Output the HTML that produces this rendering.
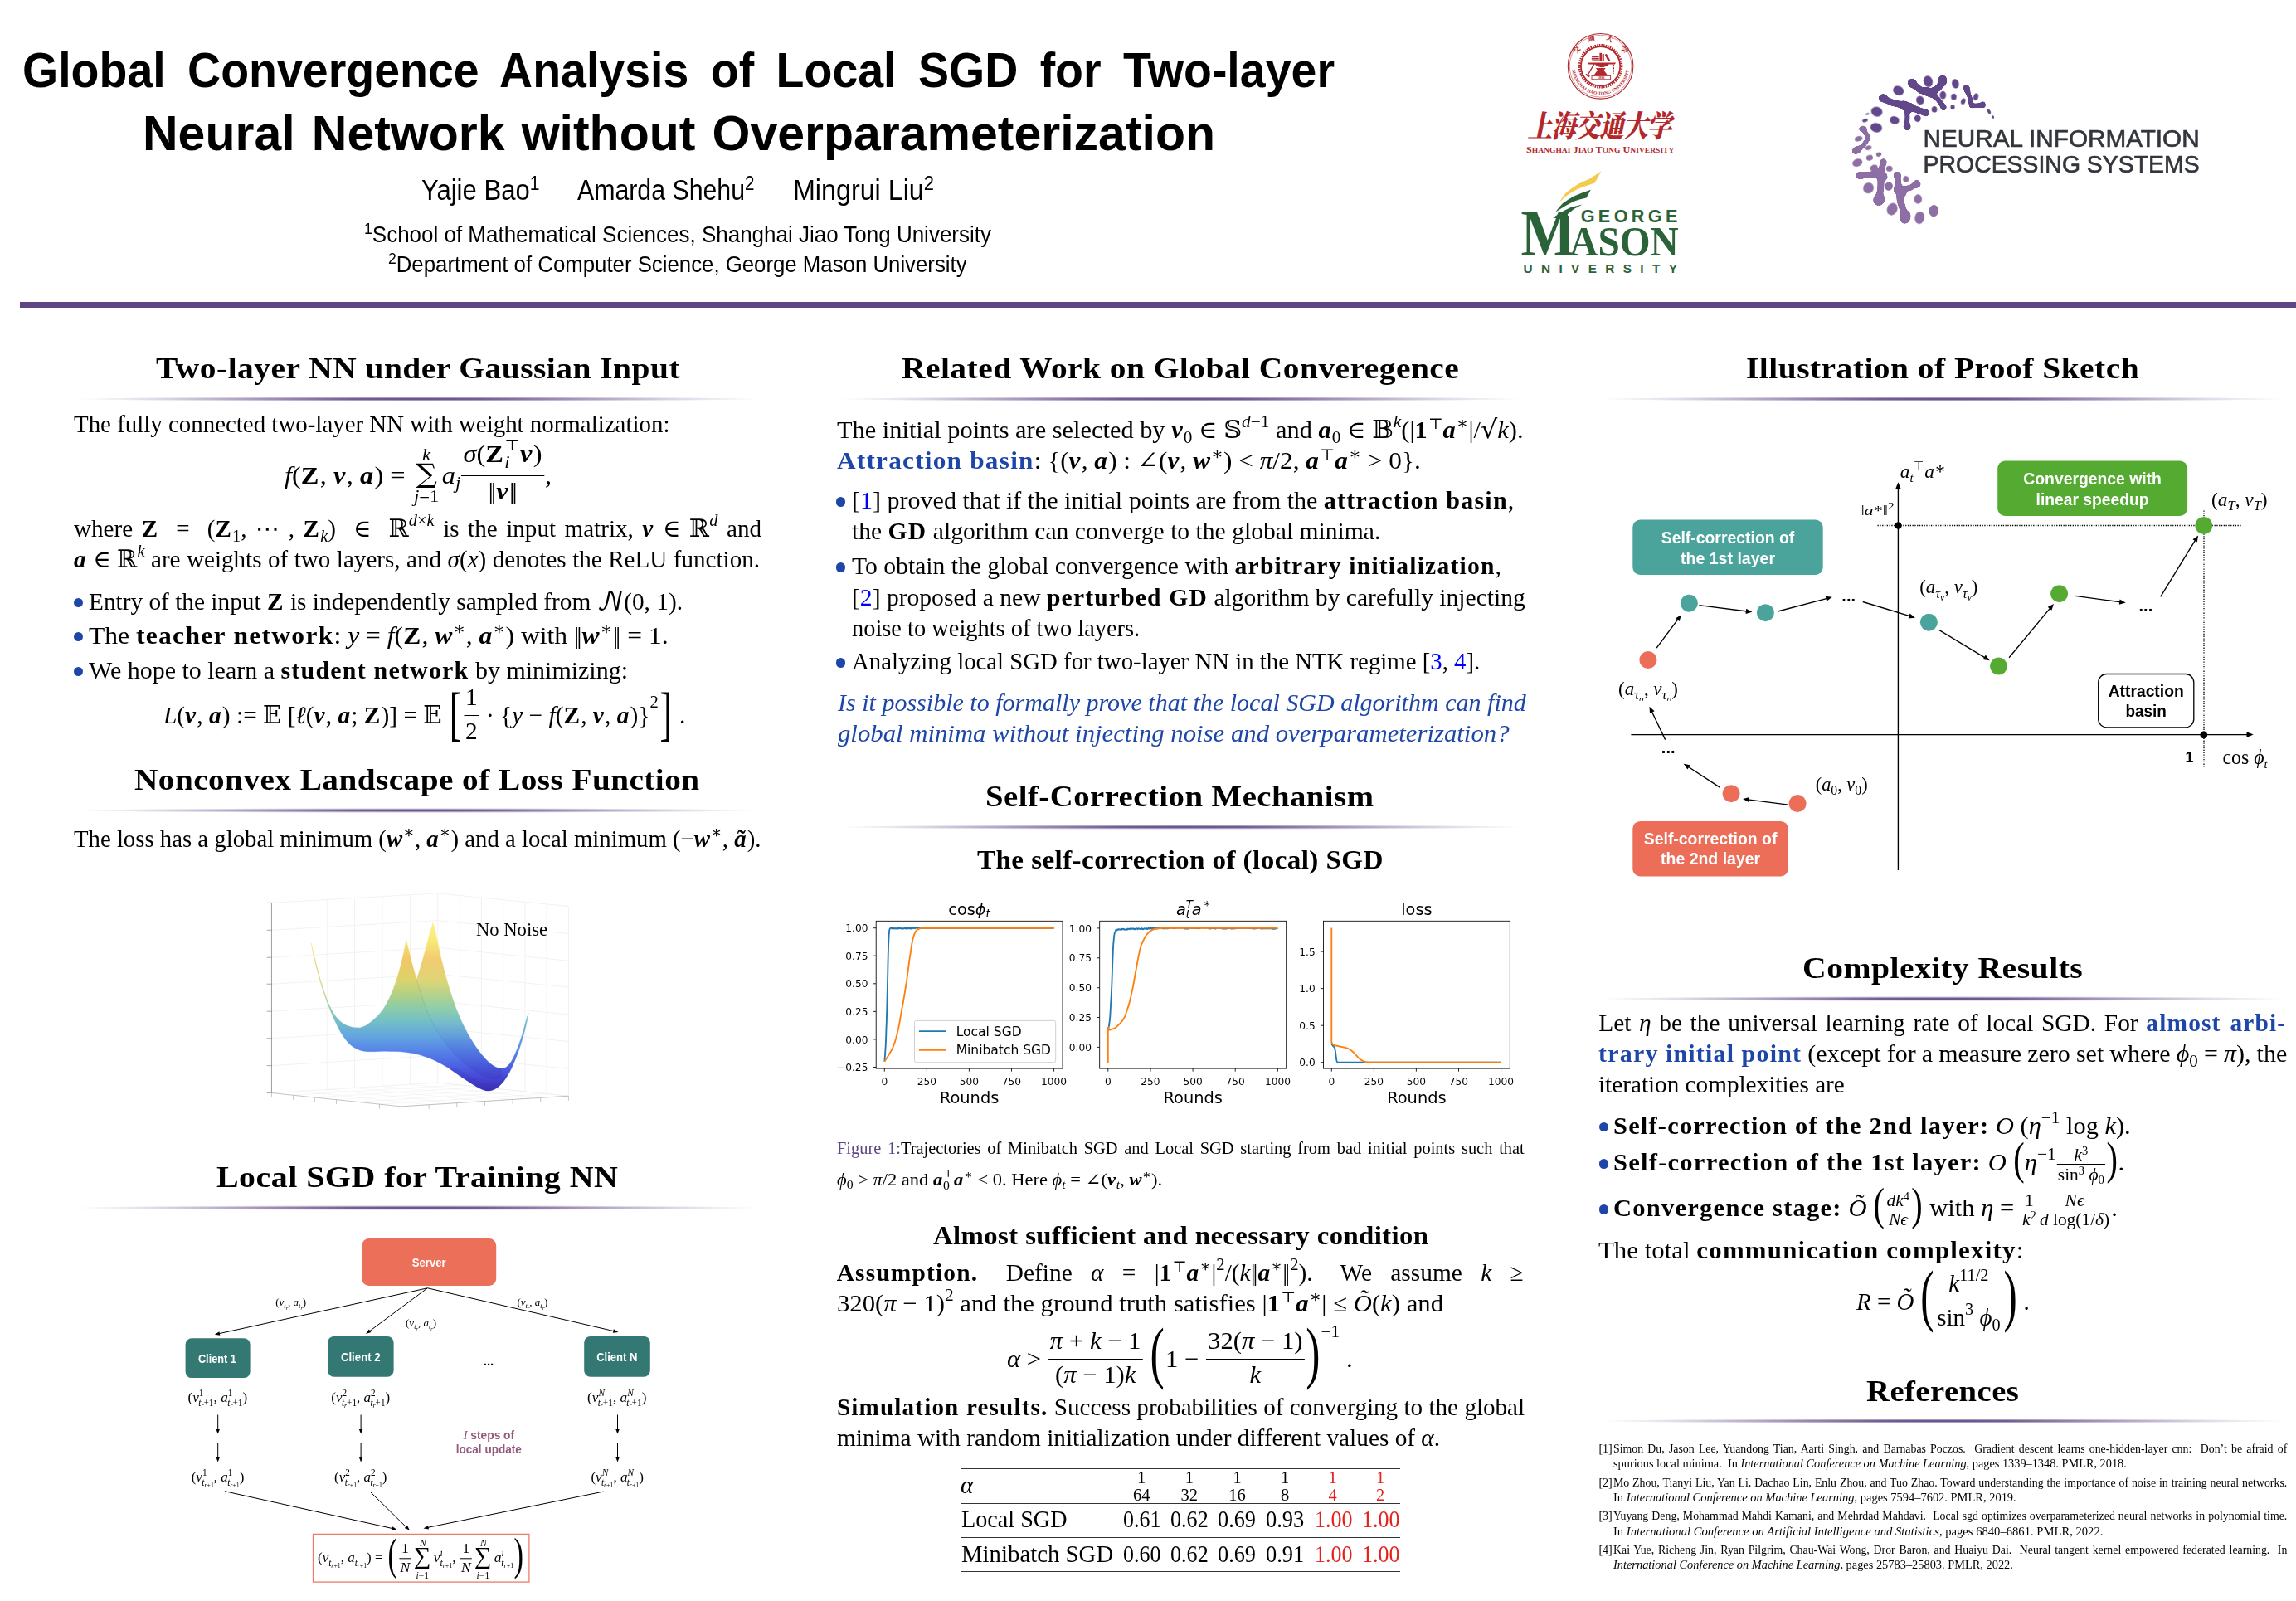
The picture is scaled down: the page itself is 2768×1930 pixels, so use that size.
<!DOCTYPE html><html lang="en"><head><meta charset="utf-8"><title>Global Convergence Analysis of Local SGD for Two-layer Neural Network without Overparameterization</title><style>
html,body{margin:0;padding:0;background:#fff}
body{width:2768px;height:1930px;position:relative;overflow:hidden;font-family:"Liberation Serif","DejaVu Serif","DejaVu Sans",serif;color:#000}
.t{position:absolute;white-space:nowrap;transform-origin:0 0;line-height:1.2;font-kerning:normal}
.sf{font-family:"Liberation Sans","DejaVu Sans",sans-serif}
.dj{font-family:"DejaVu Sans",sans-serif}
.bm{display:inline-block;width:0;height:0}
b{font-weight:bold;letter-spacing:0.04em} i{font-style:italic}
.sf b{letter-spacing:0}
.sp{font-size:70%;vertical-align:0.62em;line-height:0}
.sb{font-size:70%;vertical-align:-0.3em;line-height:0}
.ss{display:inline-block;font-size:70%;line-height:1.02;vertical-align:-0.36em;text-align:left}
.ss>span{display:block}
.fr{display:inline-block;vertical-align:-0.64em;text-align:center;line-height:1.12;margin:0 1px}
.fr>.n{display:block;border-bottom:1.3px solid currentColor;padding:0 2px 0.18em}
.fr>.d{display:block;padding:0.055em 2px 0}
.tf{display:inline-block;vertical-align:-0.55em;text-align:center;line-height:1;margin:0 1px;font-size:70%}
.tf>.n{display:block;border-bottom:1.1px solid currentColor;padding:0 1px 0}
.tf>.d{display:block;padding:0.1em 1px 0}
.tf .sp{vertical-align:0.5em;font-size:68%}
.sm{display:inline-block;vertical-align:-0.745em;text-align:center;line-height:1}
.sm>span{display:block}
.sm>.u{font-size:70%;font-style:italic;line-height:20px}
.sm>.s{font-size:110%;line-height:30px;position:relative;top:-2.5px}
.sm>.l{font-size:70%;line-height:20px}
.bp{display:inline-block;line-height:1;transform-origin:50% 50%}
.nm{letter-spacing:-0.1em;margin-right:0.1em}
.bl{color:#1d46a8}
.lk{color:#0000ff}
.rd{color:#e3231b}
.pu{color:#5e4684}
.mm{font-family:"DejaVu Math TeX Gyre","DejaVu Serif","DejaVu Sans",serif}
.ds{font-family:"DejaVu Serif","DejaVu Sans",serif}
svg{position:absolute;overflow:visible}
svg text{white-space:pre}
.abs{position:absolute}
</style></head><body>
<div class="abs" style="left:23.5px;top:363.5px;width:2745px;height:7px;background:#5e4684"></div>
<svg width="2768" height="1930" style="left:0;top:0"><circle cx="1929.6" cy="79.8" r="39.3" fill="none" stroke="#b3282d" stroke-width="1.1"/>
<circle cx="1929.6" cy="79.8" r="37.4" fill="none" stroke="#b3282d" stroke-width="0.5"/>
<circle cx="1929.6" cy="79.8" r="25.2" fill="none" stroke="#b3282d" stroke-width="3.2" stroke-dasharray="1.55 1.09"/>
<circle cx="1929.6" cy="79.8" r="23.6" fill="none" stroke="#b3282d" stroke-width="1.6"/>
<rect x="1919.1" y="67.3" width="8.5" height="2" fill="#b3282d"/><rect x="1918.8" y="70.0" width="9" height="1.6" fill="#b3282d"/><rect x="1919.3999999999999" y="72.39999999999999" width="8.6" height="1.6" fill="#b3282d"/>
<rect x="1928.3999999999999" y="63.8" width="2.6" height="10.2" fill="#b3282d"/><rect x="1931.6" y="65.0" width="2.2" height="9" fill="#b3282d"/><path d="M1934.6,65.8 l2.4,-0.8 l4.4,8.2 l-2.6,0.8 z" fill="#b3282d"/>
<path d="M1914.6,75.39999999999999 h33.5 l-1.2,2.2 h-7.3 q-3,3.4 -8.6,3.6 q-5.4,-0.2 -8,-3.6 h-8.4 z" fill="#b3282d"/>
<path d="M1924.0,82.0 h11.6 l-2.2,3.2 h-7.4 z M1925.0,86.0 h9.6 l3.2,4.4 h-16.2 z" fill="#b3282d"/>
<rect x="1919.0" y="91.39999999999999" width="22.6" height="4.4" fill="none" stroke="#b3282d" stroke-width="0.9"/>
<text x="1930.1999999999998" y="95.3" font-size="3.9" font-weight="bold" fill="#b3282d" text-anchor="middle" font-family="Liberation Sans, sans-serif">1896</text>
<path d="M1922.1999999999998,76.6 L1914.1999999999998,90.39999999999999" stroke="#b3282d" stroke-width="1.3"/><path d="M1912.1999999999998,88.8 l4.6,2.8 l-1,1.7 l-4.6,-2.8 z" fill="#b3282d"/>
<path d="M1945.1999999999998,77.8 v11" stroke="#b3282d" stroke-width="1.5" stroke-dasharray="2.4 0.9"/>
<defs><path id="arcT" d="M1898.1,79.8 A31.5,31.5 0 0 1 1961.1,79.8"/><path id="arcB" d="M1895.0,79.8 A34.6,34.6 0 0 0 1964.1999999999998,79.8"/></defs>
<text font-family="Noto Serif CJK SC, serif" font-weight="900" font-size="8.6" fill="#b3282d" letter-spacing="11.6"><textPath href="#arcT" startOffset="14.5%">交通大學</textPath></text>
<text font-family="Liberation Serif, serif" font-weight="bold" font-size="5.4" fill="#b3282d"><textPath href="#arcB" startOffset="4%" textLength="100" lengthAdjust="spacingAndGlyphs">SHANGHAI JIAO TONG UNIVERSITY</textPath></text>
<text font-family="Noto Serif CJK SC, Noto Sans CJK SC, serif" font-weight="900" font-size="30" fill="#b3282d" x="0" y="0" transform="translate(1841.5,165) scale(1,1.22) skewX(-14)" textLength="174" lengthAdjust="spacing">上海交通大学</text>
<text font-family="Liberation Serif, serif" font-weight="bold" font-size="10.1" fill="#b3282d" x="1840" y="184.1" textLength="178.4" lengthAdjust="spacingAndGlyphs">S<tspan font-size="7.9">HANGHAI</tspan> J<tspan font-size="7.9">IAO</tspan> T<tspan font-size="7.9">ONG</tspan> U<tspan font-size="7.9">NIVERSITY</tspan></text>
<text font-family="Liberation Serif, serif" font-weight="bold" font-size="80.5" fill="#2b6339" x="1833.6" y="307.7" textLength="66" lengthAdjust="spacingAndGlyphs">M</text>
<text font-family="Liberation Serif, serif" font-weight="bold" font-size="50.5" fill="#2b6339" x="1892.2" y="307.7" textLength="131.6" lengthAdjust="spacingAndGlyphs">ASON</text>
<text font-family="Liberation Sans, sans-serif" font-weight="bold" font-size="15.3" fill="#2b6339" x="1836.5" y="329.2" textLength="185.4" lengthAdjust="spacing">UNIVERSITY</text>
<polygon points="1889.9,252.0 1906.2,252.0 1906.2,259.9 1889.9,259.9" fill="#fff"/>
<polygon points="1880.0,243.7 1883.9,237.4 1887.8,232.6 1894.6,227.3 1902.3,222.0 1916.8,215.2 1930.4,206.5 1922.6,220.5 1907.2,225.8 1899.4,229.2 1893.6,232.6 1886.8,237.4" fill="#f4cb4f"/>
<polygon points="1875.2,255.8 1879.1,250.5 1883.9,245.2 1890.7,240.4 1897.5,236.5 1907.2,232.4 1917.8,228.7 1912.5,238.4 1904.2,240.5 1897.5,242.8 1891.2,246.0 1885.8,249.1" fill="#2b6339"/>
<polygon points="1872.3,262.6 1882.0,255.8 1893.6,250.0 1907.6,246.6 1897.5,252.0 1889.7,258.3 1889.7,263.6 1878.1,263.6" fill="#2b6339"/>
<text font-family="Liberation Sans, sans-serif" font-weight="bold" font-size="21.6" fill="#2b6339" x="1905.7" y="268.4" textLength="116.7" lengthAdjust="spacing">GEORGE</text>
<defs><filter id="goo" x="-5%" y="-5%" width="110%" height="110%" color-interpolation-filters="sRGB"><feGaussianBlur in="SourceGraphic" stdDeviation="8" result="b"/><feColorMatrix in="b" mode="matrix" values="1 0 0 0 0  0 1 0 0 0  0 0 1 0 0  0 0 0 7 -3"/></filter></defs>
<g transform="translate(2220,70) scale(0.137419)"><g filter="url(#goo)"><ellipse cx="885" cy="200" rx="42" ry="52" fill="#62478a" transform="rotate(10 885 200)"/><ellipse cx="620" cy="220" rx="42" ry="42" fill="#62478a"/><ellipse cx="895" cy="432" rx="26" ry="28" fill="#62478a"/><ellipse cx="365" cy="350" rx="40" ry="38" fill="#62478a"/><ellipse cx="575" cy="600" rx="34" ry="34" fill="#62478a"/><ellipse cx="740" cy="480" rx="30" ry="30" fill="#62478a"/><ellipse cx="1100" cy="272" rx="30" ry="44" fill="#62478a" transform="rotate(-20 1100 272)"/><ellipse cx="1240" cy="410" rx="25" ry="30" fill="#62478a"/><ellipse cx="188" cy="620" rx="36" ry="28" fill="#8d6fa5"/><ellipse cx="135" cy="808" rx="46" ry="33" fill="#8d6fa5" transform="rotate(-25 135 808)"/><ellipse cx="165" cy="1030" rx="38" ry="36" fill="#8d6fa5"/><ellipse cx="367" cy="912" rx="30" ry="30" fill="#8d6fa5"/><ellipse cx="330" cy="1240" rx="51" ry="56" fill="#8d6fa5" transform="rotate(25 330 1240)"/><ellipse cx="490" cy="1030" rx="34" ry="36" fill="#8d6fa5"/><ellipse cx="660" cy="1105" rx="36" ry="36" fill="#8d6fa5"/><ellipse cx="560" cy="1395" rx="48" ry="61" fill="#8d6fa5" transform="rotate(15 560 1395)"/><path d="M620,225 L700,285 L780,300 L850,262 L885,215" stroke="#62478a" stroke-width="59" stroke-linecap="round" stroke-linejoin="round" fill="none"/><path d="M745,292 L800,312" stroke="#62478a" stroke-width="79" stroke-linecap="round" stroke-linejoin="round" fill="none"/><path d="M780,300 L850,365 L895,430" stroke="#62478a" stroke-width="46" stroke-linecap="round" stroke-linejoin="round" fill="none"/><path d="M365,355 L450,392 L575,420 L680,460 L740,480" stroke="#62478a" stroke-width="59" stroke-linecap="round" stroke-linejoin="round" fill="none"/><path d="M545,415 L605,435" stroke="#62478a" stroke-width="84" stroke-linecap="round" stroke-linejoin="round" fill="none"/><path d="M575,420 L578,520 L575,600" stroke="#62478a" stroke-width="44" stroke-linecap="round" stroke-linejoin="round" fill="none"/><path d="M1100,280 L1128,350 L1140,420 L1240,412" stroke="#62478a" stroke-width="41" stroke-linecap="round" stroke-linejoin="round" fill="none"/><path d="M190,622 L238,700 L190,770 L135,805" stroke="#8d6fa5" stroke-width="41" stroke-linecap="round" stroke-linejoin="round" fill="none"/><path d="M165,1030 L250,1022 L345,1008 L367,915" stroke="#8d6fa5" stroke-width="56" stroke-linecap="round" stroke-linejoin="round" fill="none"/><path d="M345,1008 L345,1130 L330,1235" stroke="#8d6fa5" stroke-width="59" stroke-linecap="round" stroke-linejoin="round" fill="none"/><path d="M325,1015 L360,1040" stroke="#8d6fa5" stroke-width="90" stroke-linecap="round" stroke-linejoin="round" fill="none"/><path d="M490,1030 L508,1150 L600,1140 L660,1105" stroke="#8d6fa5" stroke-width="51" stroke-linecap="round" stroke-linejoin="round" fill="none"/><path d="M508,1150 L515,1250 L560,1390" stroke="#8d6fa5" stroke-width="61" stroke-linecap="round" stroke-linejoin="round" fill="none"/><path d="M500,1150 L528,1180" stroke="#8d6fa5" stroke-width="90" stroke-linecap="round" stroke-linejoin="round" fill="none"/></g><ellipse cx="760" cy="205" rx="40" ry="50" fill="#62478a" transform="rotate(-15 760 205)"/><ellipse cx="1000" cy="225" rx="31" ry="42" fill="#62478a" transform="rotate(-10 1000 225)"/><ellipse cx="1180" cy="340" rx="21" ry="31" fill="#62478a" transform="rotate(15 1180 340)"/><ellipse cx="1295" cy="470" rx="13" ry="22" fill="#62478a" transform="rotate(-25 1295 470)"/><ellipse cx="1330" cy="517" rx="9" ry="14" fill="#62478a" transform="rotate(-20 1330 517)"/><ellipse cx="890" cy="325" rx="28" ry="35" fill="#62478a"/><ellipse cx="985" cy="340" rx="24" ry="29" fill="#62478a"/><ellipse cx="1068" cy="380" rx="19" ry="28" fill="#62478a" transform="rotate(20 1068 380)"/><ellipse cx="975" cy="430" rx="19" ry="22" fill="#62478a"/><ellipse cx="815" cy="450" rx="24" ry="28" fill="#62478a"/><ellipse cx="690" cy="370" rx="34" ry="38" fill="#62478a" transform="rotate(-20 690 370)"/><ellipse cx="668" cy="530" rx="28" ry="30" fill="#62478a"/><ellipse cx="500" cy="285" rx="48" ry="40" fill="#62478a" transform="rotate(25 500 285)"/><ellipse cx="310" cy="470" rx="50" ry="43" fill="#62478a" transform="rotate(20 310 470)"/><ellipse cx="465" cy="545" rx="42" ry="34" fill="#62478a" transform="rotate(15 465 545)"/><ellipse cx="305" cy="610" rx="52" ry="41" fill="#62478a" transform="rotate(10 305 610)"/><ellipse cx="228" cy="490" rx="16" ry="8" fill="#62478a" transform="rotate(-15 228 490)"/><ellipse cx="207" cy="548" rx="25" ry="14" fill="#62478a" transform="rotate(-15 207 548)"/><ellipse cx="150" cy="708" rx="35" ry="22" fill="#8d6fa5" transform="rotate(-15 150 708)"/><ellipse cx="237" cy="787" rx="28" ry="20" fill="#8d6fa5" transform="rotate(-15 237 787)"/><ellipse cx="328" cy="845" rx="24" ry="19" fill="#8d6fa5" transform="rotate(-15 328 845)"/><ellipse cx="247" cy="875" rx="30" ry="24" fill="#8d6fa5" transform="rotate(-15 247 875)"/><ellipse cx="140" cy="918" rx="45" ry="33" fill="#8d6fa5" transform="rotate(-20 140 918)"/><ellipse cx="285" cy="965" rx="35" ry="29" fill="#8d6fa5" transform="rotate(-20 285 965)"/><ellipse cx="420" cy="970" rx="28" ry="25" fill="#8d6fa5"/><ellipse cx="565" cy="1062" rx="25" ry="28" fill="#8d6fa5"/><ellipse cx="237" cy="1140" rx="46" ry="48" fill="#8d6fa5" transform="rotate(30 237 1140)"/><ellipse cx="415" cy="1125" rx="35" ry="38" fill="#8d6fa5" transform="rotate(20 415 1125)"/><ellipse cx="672" cy="1237" rx="34" ry="42" fill="#8d6fa5"/><ellipse cx="445" cy="1325" rx="45" ry="55" fill="#8d6fa5" transform="rotate(25 445 1325)"/><ellipse cx="685" cy="1400" rx="42" ry="55" fill="#8d6fa5" transform="rotate(10 685 1400)"/><ellipse cx="810" cy="1340" rx="42" ry="52" fill="#8d6fa5" transform="rotate(5 810 1340)"/></g>
<text font-family="Liberation Sans, sans-serif" font-size="29.4" fill="#33353c" stroke="#33353c" stroke-width="0.65" x="2318.6" y="176.6" textLength="333" lengthAdjust="spacingAndGlyphs">NEURAL INFORMATION</text>
<text font-family="Liberation Sans, sans-serif" font-size="29.4" fill="#33353c" stroke="#33353c" stroke-width="0.65" x="2318.6" y="207.5" textLength="333" lengthAdjust="spacingAndGlyphs">PROCESSING SYSTEMS</text></svg>
<div class="abs" style="left:88.5px;top:477.6px;width:829.5px;height:6.0px;background:radial-gradient(ellipse 50% 50% at 50% 50%,rgba(94,70,132,1) 0%,rgba(94,70,132,.88) 24%,rgba(94,70,132,.52) 52%,rgba(94,70,132,.2) 78%,rgba(94,70,132,0) 100%)"></div>
<div class="abs" style="left:88.7px;top:720.5px;width:11.6px;height:11.6px;border-radius:50%;background:#1d46a8"></div>
<div class="abs" style="left:88.7px;top:761.9px;width:11.6px;height:11.6px;border-radius:50%;background:#1d46a8"></div>
<div class="abs" style="left:88.7px;top:803.7px;width:11.6px;height:11.6px;border-radius:50%;background:#1d46a8"></div>
<div class="abs" style="left:88.5px;top:973.9px;width:829.5px;height:6.0px;background:radial-gradient(ellipse 50% 50% at 50% 50%,rgba(94,70,132,1) 0%,rgba(94,70,132,.88) 24%,rgba(94,70,132,.52) 52%,rgba(94,70,132,.2) 78%,rgba(94,70,132,0) 100%)"></div>
<div class="abs" style="left:88.5px;top:1452.6px;width:829.5px;height:6.0px;background:radial-gradient(ellipse 50% 50% at 50% 50%,rgba(94,70,132,1) 0%,rgba(94,70,132,.88) 24%,rgba(94,70,132,.52) 52%,rgba(94,70,132,.2) 78%,rgba(94,70,132,0) 100%)"></div>
<div class="abs" style="left:1008.5px;top:477.6px;width:829.5px;height:6.0px;background:radial-gradient(ellipse 50% 50% at 50% 50%,rgba(94,70,132,1) 0%,rgba(94,70,132,.88) 24%,rgba(94,70,132,.52) 52%,rgba(94,70,132,.2) 78%,rgba(94,70,132,0) 100%)"></div>
<div class="abs" style="left:1007.9px;top:599.4px;width:11.6px;height:11.6px;border-radius:50%;background:#1d46a8"></div>
<div class="abs" style="left:1007.9px;top:678.0px;width:11.6px;height:11.6px;border-radius:50%;background:#1d46a8"></div>
<div class="abs" style="left:1007.9px;top:793.3px;width:11.6px;height:11.6px;border-radius:50%;background:#1d46a8"></div>
<div class="abs" style="left:1008.5px;top:993.7px;width:829.5px;height:6.0px;background:radial-gradient(ellipse 50% 50% at 50% 50%,rgba(94,70,132,1) 0%,rgba(94,70,132,.88) 24%,rgba(94,70,132,.52) 52%,rgba(94,70,132,.2) 78%,rgba(94,70,132,0) 100%)"></div>
<div class="abs" style="left:1157.7px;top:1769.7px;width:530.5px;height:1.4px;background:#333"></div>
<div class="abs" style="left:1157.7px;top:1811.6px;width:530.5px;height:1.4px;background:#333"></div>
<div class="abs" style="left:1157.7px;top:1852.8px;width:530.5px;height:1.4px;background:#333"></div>
<div class="abs" style="left:1157.7px;top:1894.0px;width:530.5px;height:1.4px;background:#333"></div>
<div class="abs" style="left:1366.7px;top:1791.5px;width:19px;height:1.2px;background:#000"></div>
<div class="abs" style="left:1424.3px;top:1791.5px;width:19px;height:1.2px;background:#000"></div>
<div class="abs" style="left:1482.1px;top:1791.5px;width:19px;height:1.2px;background:#000"></div>
<div class="abs" style="left:1544.0px;top:1791.5px;width:10.5px;height:1.2px;background:#000"></div>
<div class="abs" style="left:1601.3px;top:1791.5px;width:10.5px;height:1.2px;background:#e3231b"></div>
<div class="abs" style="left:1659.0px;top:1791.5px;width:10.5px;height:1.2px;background:#e3231b"></div>
<div class="abs" style="left:1927.5px;top:477.6px;width:829.5px;height:6.0px;background:radial-gradient(ellipse 50% 50% at 50% 50%,rgba(94,70,132,1) 0%,rgba(94,70,132,.88) 24%,rgba(94,70,132,.52) 52%,rgba(94,70,132,.2) 78%,rgba(94,70,132,0) 100%)"></div>
<div class="abs" style="left:1927.5px;top:1200.7px;width:829.5px;height:6.0px;background:radial-gradient(ellipse 50% 50% at 50% 50%,rgba(94,70,132,1) 0%,rgba(94,70,132,.88) 24%,rgba(94,70,132,.52) 52%,rgba(94,70,132,.2) 78%,rgba(94,70,132,0) 100%)"></div>
<div class="abs" style="left:1927.5px;top:1352.7px;width:11.6px;height:11.6px;border-radius:50%;background:#1d46a8"></div>
<div class="abs" style="left:1927.5px;top:1397.3px;width:11.6px;height:11.6px;border-radius:50%;background:#1d46a8"></div>
<div class="abs" style="left:1927.5px;top:1452.1px;width:11.6px;height:11.6px;border-radius:50%;background:#1d46a8"></div>
<div class="abs" style="left:1927.5px;top:1710.2px;width:829.5px;height:6.0px;background:radial-gradient(ellipse 50% 50% at 50% 50%,rgba(94,70,132,1) 0%,rgba(94,70,132,.88) 24%,rgba(94,70,132,.52) 52%,rgba(94,70,132,.2) 78%,rgba(94,70,132,0) 100%)"></div>
<svg width="2768" height="1930" style="left:0;top:0" font-family="DejaVu Sans, sans-serif" fill="#000"><rect x="1056.2" y="1110.3" width="224.8" height="177.8" fill="#fff" stroke="none"/>
<clipPath id="cp1056"><rect x="1056.2" y="1110.3" width="224.8" height="177.8"/></clipPath>
<g clip-path="url(#cp1056)" fill="none" stroke-width="1.85" stroke-linejoin="round">
<path d="M1066.3,1279.7 L1066.5,1277.8 L1066.7,1275.5 L1066.9,1273.0 L1067.1,1270.3 L1067.3,1267.5 L1067.5,1264.4 L1067.7,1260.9 L1067.9,1256.9 L1068.1,1252.1 L1068.3,1246.3 L1068.5,1239.9 L1068.8,1233.1 L1069.0,1226.1 L1069.2,1218.8 L1069.4,1210.9 L1069.6,1202.7 L1069.8,1194.3 L1070.0,1185.8 L1070.2,1176.6 L1070.4,1166.7 L1070.6,1157.1 L1070.8,1148.9 L1071.0,1142.6 L1071.2,1137.0 L1071.4,1132.1 L1071.6,1128.2 L1071.8,1125.4 L1072.0,1123.5 L1072.2,1121.9 L1072.4,1120.7 L1072.6,1120.0 L1072.8,1119.6 L1073.0,1119.3 L1073.2,1119.1 L1073.4,1118.9 L1073.7,1118.7 L1073.9,1118.7 L1074.1,1118.4 L1074.3,1118.7 L1074.5,1119.0 L1074.7,1118.9 L1074.9,1118.7 L1075.1,1119.4 L1075.3,1118.7 L1075.5,1118.7 L1075.7,1119.2 L1075.9,1119.4 L1076.1,1119.2 L1076.3,1119.1 L1076.5,1118.9 L1076.7,1119.1 L1076.9,1118.5 L1077.1,1119.5 L1077.3,1119.4 L1077.5,1119.4 L1077.7,1118.9 L1077.9,1119.4 L1078.1,1119.1 L1078.4,1119.4 L1078.6,1119.5 L1079.1,1119.5 L1079.6,1118.9 L1080.1,1119.5 L1080.6,1119.4 L1081.1,1119.2 L1081.6,1118.8 L1082.1,1119.5 L1082.6,1118.7 L1083.2,1119.5 L1083.7,1118.6 L1084.2,1119.1 L1084.7,1118.6 L1085.2,1119.0 L1085.7,1118.8 L1086.2,1119.6 L1086.7,1119.3 L1087.2,1119.5 L1087.7,1119.3 L1088.3,1119.5 L1088.8,1119.2 L1089.3,1119.1 L1089.8,1119.5 L1090.3,1118.8 L1090.8,1119.0 L1091.3,1119.3 L1091.8,1119.0 L1092.3,1119.5 L1092.9,1118.9 L1093.4,1118.5 L1093.9,1119.2 L1094.4,1118.8 L1094.9,1119.4 L1095.4,1118.8 L1095.9,1119.2 L1096.4,1119.3 L1096.9,1118.9 L1097.5,1119.5 L1098.0,1118.6 L1098.5,1119.5 L1099.0,1118.8 L1099.5,1119.2 L1100.0,1118.7 L1100.5,1118.4 L1101.0,1119.2 L1101.5,1118.8 L1102.0,1118.8 L1102.6,1118.8 L1103.1,1119.2 L1103.6,1118.4 L1104.1,1118.9 L1104.6,1118.5 L1105.1,1118.6 L1105.6,1119.0 L1106.1,1118.5 L1106.6,1118.9 L1107.2,1118.4 L1107.7,1118.7 L1108.2,1118.3 L1108.7,1118.5 L1109.2,1118.5 L1109.7,1118.7 L1110.2,1118.2 L1110.7,1118.6 L1111.2,1118.8 L1111.8,1118.7 L1112.3,1118.7 L1112.8,1118.7 L1113.3,1118.7 L1113.8,1118.7 L1114.3,1118.7 L1114.8,1118.7 L1115.3,1118.7 L1115.8,1118.7 L1116.3,1118.7 L1116.9,1118.7 L1117.4,1118.7 L1117.9,1118.7 L1118.4,1118.7 L1118.9,1118.7 L1119.4,1118.7 L1119.9,1118.7 L1120.4,1118.7 L1120.9,1118.7 L1121.5,1118.7 L1122.0,1118.7 L1122.5,1118.7 L1123.0,1118.7 L1123.5,1118.7 L1124.0,1118.7 L1124.5,1118.7 L1125.0,1118.7 L1125.5,1118.7 L1126.1,1118.7 L1126.6,1118.7 L1127.1,1118.7 L1127.6,1118.7 L1128.1,1118.7 L1128.6,1118.7 L1129.1,1118.7 L1129.6,1118.7 L1130.1,1118.7 L1130.6,1118.7 L1131.2,1118.7 L1131.7,1118.7 L1132.2,1118.7 L1132.7,1118.7 L1133.2,1118.7 L1133.7,1118.7 L1134.2,1118.7 L1134.7,1118.7 L1135.2,1118.7 L1135.8,1118.7 L1136.3,1118.7 L1136.8,1118.7 L1137.3,1118.7 L1137.8,1118.7 L1138.3,1118.7 L1138.8,1118.7 L1139.3,1118.7 L1139.8,1118.7 L1143.1,1118.7 L1146.4,1118.7 L1149.6,1118.7 L1152.9,1118.7 L1156.2,1118.7 L1159.5,1118.7 L1162.7,1118.7 L1166.0,1118.7 L1169.3,1118.7 L1172.5,1118.7 L1175.8,1118.7 L1179.1,1118.7 L1182.3,1118.7 L1185.6,1118.7 L1188.9,1118.7 L1192.1,1118.7 L1195.4,1118.7 L1198.7,1118.7 L1201.9,1118.7 L1205.2,1118.7 L1208.5,1118.7 L1211.7,1118.7 L1215.0,1118.7 L1218.3,1118.7 L1221.6,1118.7 L1224.8,1118.7 L1228.1,1118.7 L1231.4,1118.7 L1234.6,1118.7 L1237.9,1118.7 L1241.2,1118.7 L1244.4,1118.7 L1247.7,1118.7 L1251.0,1118.7 L1254.2,1118.7 L1257.5,1118.7 L1260.8,1118.7 L1264.0,1118.7 L1267.3,1118.7 L1270.6,1118.7" stroke="#1f77b4"/>
<path d="M1066.3,1279.7 L1066.5,1279.4 L1066.7,1279.1 L1066.9,1278.8 L1067.1,1278.5 L1067.3,1278.2 L1067.5,1277.9 L1067.7,1277.6 L1067.9,1277.3 L1068.1,1277.0 L1068.3,1276.7 L1068.5,1276.4 L1068.8,1276.0 L1069.0,1275.7 L1069.2,1275.4 L1069.4,1275.1 L1069.6,1274.7 L1069.8,1274.4 L1070.0,1274.1 L1070.2,1273.7 L1070.4,1273.4 L1070.6,1273.1 L1070.8,1272.7 L1071.0,1272.4 L1071.2,1272.0 L1071.4,1271.7 L1071.6,1271.3 L1071.8,1271.0 L1072.0,1270.7 L1072.2,1270.3 L1072.4,1270.0 L1072.6,1269.6 L1072.8,1269.3 L1073.0,1269.0 L1073.2,1268.6 L1073.4,1268.3 L1073.7,1267.9 L1073.9,1267.6 L1074.1,1267.2 L1074.3,1266.9 L1074.5,1266.5 L1074.7,1266.1 L1074.9,1265.8 L1075.1,1265.4 L1075.3,1265.0 L1075.5,1264.6 L1075.7,1264.1 L1075.9,1263.7 L1076.1,1263.3 L1076.3,1262.8 L1076.5,1262.4 L1076.7,1261.9 L1076.9,1261.4 L1077.1,1260.9 L1077.3,1260.3 L1077.5,1259.8 L1077.7,1259.2 L1077.9,1258.7 L1078.1,1258.1 L1078.4,1257.5 L1078.6,1256.8 L1079.1,1255.2 L1079.6,1253.5 L1080.1,1251.8 L1080.6,1249.9 L1081.1,1248.0 L1081.6,1246.0 L1082.1,1243.9 L1082.6,1241.8 L1083.2,1239.4 L1083.7,1236.9 L1084.2,1234.2 L1084.7,1231.4 L1085.2,1228.5 L1085.7,1225.6 L1086.2,1222.7 L1086.7,1219.8 L1087.2,1217.0 L1087.7,1214.1 L1088.3,1211.3 L1088.8,1208.4 L1089.3,1205.5 L1089.8,1202.6 L1090.3,1199.6 L1090.8,1196.6 L1091.3,1193.5 L1091.8,1190.4 L1092.3,1187.1 L1092.9,1183.8 L1093.4,1180.2 L1093.9,1176.4 L1094.4,1172.5 L1094.9,1168.6 L1095.4,1164.7 L1095.9,1160.9 L1096.4,1157.1 L1096.9,1153.6 L1097.5,1150.2 L1098.0,1146.8 L1098.5,1143.4 L1099.0,1140.0 L1099.5,1137.0 L1100.0,1134.3 L1100.5,1132.1 L1101.0,1130.3 L1101.5,1128.7 L1102.0,1127.1 L1102.6,1125.7 L1103.1,1124.5 L1103.6,1123.5 L1104.1,1122.6 L1104.6,1122.0 L1105.1,1121.5 L1105.6,1121.0 L1106.1,1120.6 L1106.6,1120.3 L1107.2,1120.0 L1107.7,1119.8 L1108.2,1119.6 L1108.7,1119.4 L1109.2,1119.2 L1109.7,1119.0 L1110.2,1119.0 L1110.7,1118.9 L1111.2,1118.9 L1111.8,1118.8 L1112.3,1118.8 L1112.8,1118.8 L1113.3,1118.7 L1113.8,1118.7 L1114.3,1118.7 L1114.8,1118.7 L1115.3,1118.7 L1115.8,1118.7 L1116.3,1118.7 L1116.9,1118.7 L1117.4,1118.7 L1117.9,1118.7 L1118.4,1118.7 L1118.9,1118.7 L1119.4,1118.7 L1119.9,1118.7 L1120.4,1118.7 L1120.9,1118.7 L1121.5,1118.7 L1122.0,1118.7 L1122.5,1118.7 L1123.0,1118.7 L1123.5,1118.7 L1124.0,1118.7 L1124.5,1118.7 L1125.0,1118.7 L1125.5,1118.7 L1126.1,1118.7 L1126.6,1118.7 L1127.1,1118.7 L1127.6,1118.7 L1128.1,1118.7 L1128.6,1118.7 L1129.1,1118.7 L1129.6,1118.7 L1130.1,1118.7 L1130.6,1118.7 L1131.2,1118.7 L1131.7,1118.7 L1132.2,1118.7 L1132.7,1118.7 L1133.2,1118.7 L1133.7,1118.7 L1134.2,1118.7 L1134.7,1118.7 L1135.2,1118.7 L1135.8,1118.7 L1136.3,1118.7 L1136.8,1118.7 L1137.3,1118.7 L1137.8,1118.7 L1138.3,1118.7 L1138.8,1118.7 L1139.3,1118.7 L1139.8,1118.7 L1143.1,1118.7 L1146.4,1118.7 L1149.6,1118.7 L1152.9,1118.7 L1156.2,1118.7 L1159.5,1118.7 L1162.7,1118.7 L1166.0,1118.7 L1169.3,1118.7 L1172.5,1118.7 L1175.8,1118.7 L1179.1,1118.7 L1182.3,1118.7 L1185.6,1118.7 L1188.9,1118.7 L1192.1,1118.7 L1195.4,1118.7 L1198.7,1118.7 L1201.9,1118.7 L1205.2,1118.7 L1208.5,1118.7 L1211.7,1118.7 L1215.0,1118.7 L1218.3,1118.7 L1221.6,1118.7 L1224.8,1118.7 L1228.1,1118.7 L1231.4,1118.7 L1234.6,1118.7 L1237.9,1118.7 L1241.2,1118.7 L1244.4,1118.7 L1247.7,1118.7 L1251.0,1118.7 L1254.2,1118.7 L1257.5,1118.7 L1260.8,1118.7 L1264.0,1118.7 L1267.3,1118.7 L1270.6,1118.7" stroke="#ff7f0e"/>
</g>
<rect x="1102.5" y="1230.4" width="170.2" height="50.3" rx="2.2" fill="#fff" fill-opacity="0.8" stroke="#ccc" stroke-width="0.9"/><path d="M1107.9,1243.1 h33" stroke="#1f77b4" stroke-width="1.85"/><path d="M1107.9,1265.7 h33" stroke="#ff7f0e" stroke-width="1.85"/><text x="1152.7" y="1248.6" font-size="15.5">Local SGD</text><text x="1152.7" y="1271.1" font-size="15.5">Minibatch SGD</text>
<rect x="1056.2" y="1110.3" width="224.8" height="177.8" fill="none" stroke="#000" stroke-width="0.85"/>
<path d="M1066.3,1288.1 v3.6" stroke="#000" stroke-width="0.85"/>
<text x="1066.3" y="1308.3" font-size="12.2" text-anchor="middle">0</text>
<path d="M1117.4,1288.1 v3.6" stroke="#000" stroke-width="0.85"/>
<text x="1117.4" y="1308.3" font-size="12.2" text-anchor="middle">250</text>
<path d="M1168.4,1288.1 v3.6" stroke="#000" stroke-width="0.85"/>
<text x="1168.4" y="1308.3" font-size="12.2" text-anchor="middle">500</text>
<path d="M1219.5,1288.1 v3.6" stroke="#000" stroke-width="0.85"/>
<text x="1219.5" y="1308.3" font-size="12.2" text-anchor="middle">750</text>
<path d="M1270.6,1288.1 v3.6" stroke="#000" stroke-width="0.85"/>
<text x="1270.6" y="1308.3" font-size="12.2" text-anchor="middle">1000</text>
<path d="M1056.2,1118.7 h-3.6" stroke="#000" stroke-width="0.85"/>
<text x="1046.4" y="1123.3" font-size="12.2" text-anchor="end">1.00</text>
<path d="M1056.2,1152.2 h-3.6" stroke="#000" stroke-width="0.85"/>
<text x="1046.4" y="1156.8" font-size="12.2" text-anchor="end">0.75</text>
<path d="M1056.2,1185.8 h-3.6" stroke="#000" stroke-width="0.85"/>
<text x="1046.4" y="1190.4" font-size="12.2" text-anchor="end">0.50</text>
<path d="M1056.2,1219.4 h-3.6" stroke="#000" stroke-width="0.85"/>
<text x="1046.4" y="1224.0" font-size="12.2" text-anchor="end">0.25</text>
<path d="M1056.2,1252.9 h-3.6" stroke="#000" stroke-width="0.85"/>
<text x="1046.4" y="1257.5" font-size="12.2" text-anchor="end">0.00</text>
<path d="M1056.2,1286.5 h-3.6" stroke="#000" stroke-width="0.85"/>
<text x="1046.4" y="1291.0" font-size="12.2" text-anchor="end">−0.25</text>
<text x="1168.6" y="1329.7" font-size="19.4" text-anchor="middle">Rounds</text>
<text x="1168.6" y="1102.6" font-size="19.3" text-anchor="middle">cos<tspan font-style="italic">ϕ</tspan><tspan font-size="13.5" font-style="italic" dy="3.5">t</tspan></text><rect x="1325.7" y="1110.3" width="225.0" height="177.8" fill="#fff" stroke="none"/>
<clipPath id="cp1325"><rect x="1325.7" y="1110.3" width="225.0" height="177.8"/></clipPath>
<g clip-path="url(#cp1325)" fill="none" stroke-width="1.85" stroke-linejoin="round">
<path d="M1335.8,1239.4 L1336.0,1239.3 L1336.2,1239.0 L1336.4,1238.5 L1336.6,1238.0 L1336.8,1237.3 L1337.0,1236.3 L1337.2,1235.1 L1337.4,1233.7 L1337.6,1232.1 L1337.8,1230.0 L1338.1,1227.7 L1338.3,1225.1 L1338.5,1222.0 L1338.7,1218.4 L1338.9,1214.5 L1339.1,1210.7 L1339.3,1207.3 L1339.5,1204.0 L1339.7,1200.7 L1339.9,1197.1 L1340.1,1193.2 L1340.3,1188.7 L1340.5,1183.2 L1340.7,1177.0 L1340.9,1170.7 L1341.1,1164.8 L1341.3,1159.4 L1341.5,1154.0 L1341.7,1149.1 L1341.9,1144.7 L1342.1,1140.9 L1342.3,1137.3 L1342.6,1134.2 L1342.8,1131.8 L1343.0,1130.0 L1343.2,1128.3 L1343.4,1126.8 L1343.6,1125.6 L1343.8,1124.6 L1344.0,1124.1 L1344.2,1123.5 L1344.4,1123.3 L1344.6,1122.9 L1344.8,1122.3 L1345.0,1121.4 L1345.2,1121.6 L1345.4,1121.8 L1345.6,1121.6 L1345.8,1121.2 L1346.0,1121.5 L1346.2,1121.4 L1346.4,1120.9 L1346.6,1121.5 L1346.8,1120.8 L1347.1,1121.0 L1347.3,1120.4 L1347.5,1120.3 L1347.7,1120.3 L1347.9,1120.3 L1348.1,1120.7 L1348.6,1120.2 L1349.1,1120.6 L1349.6,1120.3 L1350.1,1120.6 L1350.6,1120.4 L1351.1,1120.9 L1351.7,1120.6 L1352.2,1119.6 L1352.7,1120.6 L1353.2,1119.9 L1353.7,1120.0 L1354.2,1119.8 L1354.7,1120.2 L1355.2,1120.0 L1355.7,1120.7 L1356.3,1120.7 L1356.8,1120.5 L1357.3,1120.6 L1357.8,1120.7 L1358.3,1120.6 L1358.8,1120.0 L1359.3,1120.5 L1359.8,1119.4 L1360.4,1119.8 L1360.9,1120.0 L1361.4,1119.7 L1361.9,1120.3 L1362.4,1119.4 L1362.9,1119.5 L1363.4,1119.7 L1363.9,1120.0 L1364.4,1119.5 L1365.0,1119.6 L1365.5,1119.7 L1366.0,1119.3 L1366.5,1119.7 L1367.0,1120.1 L1367.5,1119.8 L1368.0,1120.3 L1368.5,1120.3 L1369.0,1119.5 L1369.6,1119.4 L1370.1,1119.1 L1370.6,1119.3 L1371.1,1119.7 L1371.6,1120.3 L1372.1,1119.7 L1372.6,1119.1 L1373.1,1119.3 L1373.7,1119.7 L1374.2,1119.7 L1374.7,1120.0 L1375.2,1120.1 L1375.7,1120.2 L1376.2,1119.0 L1376.7,1119.4 L1377.2,1120.1 L1377.7,1119.7 L1378.3,1120.2 L1378.8,1119.9 L1379.3,1119.2 L1379.8,1119.3 L1380.3,1119.5 L1380.8,1119.8 L1381.3,1119.2 L1381.8,1118.7 L1382.3,1119.5 L1382.9,1120.0 L1383.4,1120.0 L1383.9,1119.9 L1384.4,1118.7 L1384.9,1119.2 L1385.4,1118.8 L1385.9,1119.7 L1386.4,1119.6 L1387.0,1119.0 L1387.5,1118.7 L1388.0,1119.4 L1388.5,1119.8 L1389.0,1118.7 L1389.5,1119.5 L1390.0,1118.8 L1390.5,1119.6 L1391.0,1118.8 L1391.6,1118.6 L1392.1,1118.8 L1392.6,1119.3 L1393.1,1118.7 L1393.6,1119.6 L1394.1,1119.3 L1394.6,1119.1 L1395.1,1118.5 L1395.6,1119.5 L1396.2,1118.4 L1396.7,1118.5 L1397.2,1118.3 L1397.7,1119.1 L1398.2,1119.4 L1398.7,1119.3 L1399.2,1118.4 L1399.7,1118.2 L1400.2,1118.6 L1400.8,1118.9 L1401.3,1119.2 L1401.8,1118.4 L1402.3,1118.4 L1402.8,1119.5 L1403.3,1119.3 L1403.8,1118.4 L1404.3,1118.4 L1404.9,1119.2 L1405.4,1119.2 L1405.9,1119.0 L1406.4,1118.8 L1406.9,1119.5 L1407.4,1118.4 L1407.9,1118.9 L1408.4,1118.5 L1408.9,1119.3 L1409.5,1118.2 L1412.7,1118.5 L1416.0,1119.1 L1419.3,1118.3 L1422.6,1118.6 L1425.8,1118.4 L1429.1,1119.6 L1432.4,1119.5 L1435.6,1118.6 L1438.9,1119.2 L1442.2,1118.9 L1445.5,1119.4 L1448.7,1118.2 L1452.0,1118.9 L1455.3,1118.4 L1458.6,1119.5 L1461.8,1118.9 L1465.1,1119.5 L1468.4,1118.4 L1471.7,1119.0 L1474.9,1119.5 L1478.2,1119.5 L1481.5,1118.9 L1484.7,1119.5 L1488.0,1119.4 L1491.3,1119.0 L1494.6,1118.9 L1497.8,1118.8 L1501.1,1118.8 L1504.4,1119.1 L1507.7,1118.8 L1510.9,1119.5 L1514.2,1119.3 L1517.5,1118.6 L1520.8,1119.5 L1524.0,1119.4 L1527.3,1119.4 L1530.6,1119.0 L1533.9,1119.7 L1537.1,1119.7 L1540.4,1119.1" stroke="#1f77b4"/>
<path d="M1335.8,1281.1 L1335.8,1239.4 L1336.0,1239.0 L1336.2,1238.8 L1336.4,1238.7 L1336.6,1239.0 L1336.8,1239.7 L1337.0,1240.6 L1337.2,1241.3 L1337.4,1241.6 L1337.6,1241.6 L1337.8,1241.6 L1338.1,1241.5 L1338.3,1241.5 L1338.5,1241.4 L1338.7,1241.3 L1338.9,1241.3 L1339.1,1241.2 L1339.3,1241.1 L1339.5,1241.0 L1339.7,1240.9 L1339.9,1240.9 L1340.1,1240.8 L1340.3,1240.7 L1340.5,1240.7 L1340.7,1240.6 L1340.9,1240.6 L1341.1,1240.5 L1341.3,1240.4 L1341.5,1240.4 L1341.7,1240.3 L1341.9,1240.3 L1342.1,1240.2 L1342.3,1240.1 L1342.6,1240.0 L1342.8,1240.0 L1343.0,1239.9 L1343.2,1239.8 L1343.4,1239.7 L1343.6,1239.6 L1343.8,1239.5 L1344.0,1239.4 L1344.2,1239.3 L1344.4,1239.2 L1344.6,1239.1 L1344.8,1238.9 L1345.0,1238.8 L1345.2,1238.6 L1345.4,1238.4 L1345.6,1238.3 L1345.8,1238.1 L1346.0,1237.9 L1346.2,1237.7 L1346.4,1237.5 L1346.6,1237.3 L1346.8,1237.1 L1347.1,1236.9 L1347.3,1236.7 L1347.5,1236.5 L1347.7,1236.3 L1347.9,1236.1 L1348.1,1235.9 L1348.6,1235.4 L1349.1,1234.9 L1349.6,1234.4 L1350.1,1233.8 L1350.6,1233.3 L1351.1,1232.7 L1351.7,1232.2 L1352.2,1231.5 L1352.7,1230.9 L1353.2,1230.3 L1353.7,1229.6 L1354.2,1228.8 L1354.7,1228.0 L1355.2,1227.2 L1355.7,1226.2 L1356.3,1225.1 L1356.8,1223.8 L1357.3,1222.3 L1357.8,1220.8 L1358.3,1219.4 L1358.8,1217.8 L1359.3,1216.3 L1359.8,1214.6 L1360.4,1212.9 L1360.9,1211.2 L1361.4,1209.3 L1361.9,1207.4 L1362.4,1205.3 L1362.9,1203.2 L1363.4,1201.1 L1363.9,1198.8 L1364.4,1196.5 L1365.0,1194.1 L1365.5,1191.6 L1366.0,1189.1 L1366.5,1186.4 L1367.0,1183.5 L1367.5,1180.6 L1368.0,1177.7 L1368.5,1174.9 L1369.0,1172.0 L1369.6,1169.2 L1370.1,1166.3 L1370.6,1163.5 L1371.1,1160.7 L1371.6,1157.9 L1372.1,1155.3 L1372.6,1152.7 L1373.1,1150.1 L1373.7,1147.6 L1374.2,1145.3 L1374.7,1143.3 L1375.2,1141.6 L1375.7,1140.1 L1376.2,1138.7 L1376.7,1137.4 L1377.2,1136.1 L1377.7,1135.0 L1378.3,1133.9 L1378.8,1132.8 L1379.3,1131.8 L1379.8,1130.8 L1380.3,1129.9 L1380.8,1129.0 L1381.3,1128.2 L1381.8,1127.4 L1382.3,1126.7 L1382.9,1126.1 L1383.4,1125.5 L1383.9,1125.0 L1384.4,1124.4 L1384.9,1123.9 L1385.4,1123.5 L1385.9,1123.0 L1386.4,1122.6 L1387.0,1122.2 L1387.5,1121.9 L1388.0,1121.6 L1388.5,1121.3 L1389.0,1121.1 L1389.5,1120.8 L1390.0,1120.6 L1390.5,1120.4 L1391.0,1120.2 L1391.6,1120.1 L1392.1,1119.9 L1392.6,1119.8 L1393.1,1119.6 L1393.6,1119.5 L1394.1,1119.4 L1394.6,1119.4 L1395.1,1119.3 L1395.6,1119.3 L1396.2,1119.2 L1396.7,1119.2 L1397.2,1119.1 L1397.7,1119.1 L1398.2,1119.1 L1398.7,1119.0 L1399.2,1119.0 L1399.7,1119.0 L1400.2,1119.0 L1400.8,1118.9 L1401.3,1118.9 L1401.8,1118.9 L1402.3,1118.9 L1402.8,1118.9 L1403.3,1118.9 L1403.8,1118.9 L1404.3,1118.9 L1404.9,1118.9 L1405.4,1118.9 L1405.9,1118.9 L1406.4,1118.9 L1406.9,1118.9 L1407.4,1118.9 L1407.9,1118.9 L1408.4,1118.9 L1408.9,1118.9 L1409.5,1118.9 L1412.7,1118.9 L1416.0,1118.9 L1419.3,1118.9 L1422.6,1118.9 L1425.8,1118.9 L1429.1,1118.9 L1432.4,1118.9 L1435.6,1118.9 L1438.9,1118.9 L1442.2,1118.9 L1445.5,1118.9 L1448.7,1118.9 L1452.0,1118.9 L1455.3,1118.9 L1458.6,1118.9 L1461.8,1118.9 L1465.1,1118.9 L1468.4,1118.9 L1471.7,1118.9 L1474.9,1118.9 L1478.2,1118.9 L1481.5,1118.9 L1484.7,1118.9 L1488.0,1118.9 L1491.3,1118.9 L1494.6,1118.9 L1497.8,1118.9 L1501.1,1118.9 L1504.4,1118.9 L1507.7,1118.9 L1510.9,1118.9 L1514.2,1118.9 L1517.5,1118.9 L1520.8,1118.9 L1524.0,1118.9 L1527.3,1118.9 L1530.6,1118.9 L1533.9,1118.9 L1537.1,1118.9 L1540.4,1118.9" stroke="#ff7f0e"/>
</g>

<rect x="1325.7" y="1110.3" width="225.0" height="177.8" fill="none" stroke="#000" stroke-width="0.85"/>
<path d="M1335.8,1288.1 v3.6" stroke="#000" stroke-width="0.85"/>
<text x="1335.8" y="1308.3" font-size="12.2" text-anchor="middle">0</text>
<path d="M1387.0,1288.1 v3.6" stroke="#000" stroke-width="0.85"/>
<text x="1387.0" y="1308.3" font-size="12.2" text-anchor="middle">250</text>
<path d="M1438.1,1288.1 v3.6" stroke="#000" stroke-width="0.85"/>
<text x="1438.1" y="1308.3" font-size="12.2" text-anchor="middle">500</text>
<path d="M1489.2,1288.1 v3.6" stroke="#000" stroke-width="0.85"/>
<text x="1489.2" y="1308.3" font-size="12.2" text-anchor="middle">750</text>
<path d="M1540.4,1288.1 v3.6" stroke="#000" stroke-width="0.85"/>
<text x="1540.4" y="1308.3" font-size="12.2" text-anchor="middle">1000</text>
<path d="M1325.7,1118.9 h-3.6" stroke="#000" stroke-width="0.85"/>
<text x="1315.9" y="1123.5" font-size="12.2" text-anchor="end">1.00</text>
<path d="M1325.7,1154.8 h-3.6" stroke="#000" stroke-width="0.85"/>
<text x="1315.9" y="1159.4" font-size="12.2" text-anchor="end">0.75</text>
<path d="M1325.7,1190.7 h-3.6" stroke="#000" stroke-width="0.85"/>
<text x="1315.9" y="1195.2" font-size="12.2" text-anchor="end">0.50</text>
<path d="M1325.7,1226.5 h-3.6" stroke="#000" stroke-width="0.85"/>
<text x="1315.9" y="1231.1" font-size="12.2" text-anchor="end">0.25</text>
<path d="M1325.7,1262.4 h-3.6" stroke="#000" stroke-width="0.85"/>
<text x="1315.9" y="1267.0" font-size="12.2" text-anchor="end">0.00</text>
<text x="1438.2" y="1329.7" font-size="19.4" text-anchor="middle">Rounds</text>
<text x="1438.2" y="1102.6" font-size="19.3" text-anchor="middle" font-style="italic">a<tspan font-size="13.5" dy="-8">T</tspan><tspan font-size="13.5" dx="-8.5" dy="12.5">t</tspan><tspan dy="-4.5" dx="2">a</tspan><tspan font-size="13.5" font-style="normal" dy="-7" dx="3">*</tspan></text><rect x="1595.5" y="1110.3" width="224.8" height="177.8" fill="#fff" stroke="none"/>
<clipPath id="cp1595"><rect x="1595.5" y="1110.3" width="224.8" height="177.8"/></clipPath>
<g clip-path="url(#cp1595)" fill="none" stroke-width="1.85" stroke-linejoin="round">
<path d="M1605.3,1257.5 L1605.5,1258.2 L1605.7,1258.8 L1605.9,1259.3 L1606.1,1259.7 L1606.3,1259.9 L1606.5,1260.2 L1606.7,1260.4 L1606.9,1260.6 L1607.1,1260.9 L1607.3,1261.1 L1607.5,1261.3 L1607.8,1261.6 L1608.0,1261.8 L1608.2,1262.0 L1608.4,1262.3 L1608.6,1262.6 L1608.8,1262.9 L1609.0,1263.3 L1609.2,1263.9 L1609.4,1264.8 L1609.6,1265.8 L1609.8,1267.0 L1610.0,1268.2 L1610.2,1269.7 L1610.4,1271.4 L1610.6,1273.3 L1610.8,1275.0 L1611.0,1276.2 L1611.2,1277.3 L1611.4,1278.2 L1611.6,1279.0 L1611.8,1279.6 L1612.0,1280.0 L1612.2,1280.2 L1612.4,1280.3 L1612.7,1280.5 L1612.9,1280.6 L1613.1,1280.6 L1613.3,1280.7 L1613.5,1280.7 L1613.7,1280.7 L1613.9,1280.7 L1614.1,1280.7 L1614.3,1280.7 L1614.5,1280.7 L1614.7,1280.7 L1614.9,1280.7 L1615.1,1280.7 L1615.3,1280.7 L1615.5,1280.7 L1615.7,1280.7 L1615.9,1280.7 L1616.1,1280.7 L1616.3,1280.7 L1616.5,1280.7 L1616.7,1280.7 L1616.9,1280.7 L1617.1,1280.7 L1617.4,1280.7 L1617.6,1280.7 L1618.1,1280.7 L1618.6,1280.7 L1619.1,1280.7 L1619.6,1280.7 L1620.1,1280.7 L1620.6,1280.7 L1621.1,1280.7 L1621.6,1280.7 L1622.2,1280.7 L1622.7,1280.7 L1623.2,1280.7 L1623.7,1280.7 L1624.2,1280.7 L1624.7,1280.7 L1625.2,1280.7 L1625.7,1280.7 L1626.2,1280.7 L1626.7,1280.7 L1627.3,1280.7 L1627.8,1280.7 L1628.3,1280.7 L1628.8,1280.7 L1629.3,1280.7 L1629.8,1280.7 L1630.3,1280.7 L1630.8,1280.7 L1631.3,1280.7 L1631.9,1280.7 L1632.4,1280.7 L1632.9,1280.7 L1633.4,1280.7 L1633.9,1280.7 L1634.4,1280.7 L1634.9,1280.7 L1635.4,1280.7 L1635.9,1280.7 L1636.5,1280.7 L1637.0,1280.7 L1637.5,1280.7 L1638.0,1280.7 L1638.5,1280.7 L1639.0,1280.7 L1639.5,1280.7 L1640.0,1280.7 L1640.5,1280.7 L1641.0,1280.7 L1641.6,1280.7 L1642.1,1280.7 L1642.6,1280.7 L1643.1,1280.7 L1643.6,1280.7 L1644.1,1280.7 L1644.6,1280.7 L1645.1,1280.7 L1645.6,1280.7 L1646.2,1280.7 L1646.7,1280.7 L1647.2,1280.7 L1647.7,1280.7 L1648.2,1280.7 L1648.7,1280.7 L1649.2,1280.7 L1649.7,1280.7 L1650.2,1280.7 L1650.8,1280.7 L1651.3,1280.7 L1651.8,1280.7 L1652.3,1280.7 L1652.8,1280.7 L1653.3,1280.7 L1653.8,1280.7 L1654.3,1280.7 L1654.8,1280.7 L1655.3,1280.7 L1655.9,1280.7 L1656.4,1280.7 L1656.9,1280.7 L1657.4,1280.7 L1657.9,1280.7 L1658.4,1280.7 L1658.9,1280.7 L1659.4,1280.7 L1659.9,1280.7 L1660.5,1280.7 L1661.0,1280.7 L1661.5,1280.7 L1662.0,1280.7 L1662.5,1280.7 L1663.0,1280.7 L1663.5,1280.7 L1664.0,1280.7 L1664.5,1280.7 L1665.1,1280.7 L1665.6,1280.7 L1666.1,1280.7 L1666.6,1280.7 L1667.1,1280.7 L1667.6,1280.7 L1668.1,1280.7 L1668.6,1280.7 L1669.1,1280.7 L1669.6,1280.7 L1670.2,1280.7 L1670.7,1280.7 L1671.2,1280.7 L1671.7,1280.7 L1672.2,1280.7 L1672.7,1280.7 L1673.2,1280.7 L1673.7,1280.7 L1674.2,1280.7 L1674.8,1280.7 L1675.3,1280.7 L1675.8,1280.7 L1676.3,1280.7 L1676.8,1280.7 L1677.3,1280.7 L1677.8,1280.7 L1678.3,1280.7 L1678.8,1280.7 L1682.1,1280.7 L1685.4,1280.7 L1688.6,1280.7 L1691.9,1280.7 L1695.2,1280.7 L1698.5,1280.7 L1701.7,1280.7 L1705.0,1280.7 L1708.3,1280.7 L1711.5,1280.7 L1714.8,1280.7 L1718.1,1280.7 L1721.3,1280.7 L1724.6,1280.7 L1727.9,1280.7 L1731.1,1280.7 L1734.4,1280.7 L1737.7,1280.7 L1740.9,1280.7 L1744.2,1280.7 L1747.5,1280.7 L1750.7,1280.7 L1754.0,1280.7 L1757.3,1280.7 L1760.6,1280.7 L1763.8,1280.7 L1767.1,1280.7 L1770.4,1280.7 L1773.6,1280.7 L1776.9,1280.7 L1780.2,1280.7 L1783.4,1280.7 L1786.7,1280.7 L1790.0,1280.7 L1793.2,1280.7 L1796.5,1280.7 L1799.8,1280.7 L1803.0,1280.7 L1806.3,1280.7 L1809.6,1280.7" stroke="#1f77b4"/>
<path d="M1605.3,1118.5 L1605.3,1256.1 L1605.5,1256.6 L1605.7,1257.2 L1605.9,1257.7 L1606.1,1258.1 L1606.3,1258.4 L1606.5,1258.6 L1606.7,1258.8 L1606.9,1259.0 L1607.1,1259.1 L1607.3,1259.3 L1607.5,1259.4 L1607.8,1259.5 L1608.0,1259.6 L1608.2,1259.7 L1608.4,1259.8 L1608.6,1259.8 L1608.8,1259.9 L1609.0,1260.0 L1609.2,1260.1 L1609.4,1260.1 L1609.6,1260.2 L1609.8,1260.2 L1610.0,1260.3 L1610.2,1260.3 L1610.4,1260.4 L1610.6,1260.5 L1610.8,1260.5 L1611.0,1260.6 L1611.2,1260.6 L1611.4,1260.7 L1611.6,1260.7 L1611.8,1260.8 L1612.0,1260.8 L1612.2,1260.8 L1612.4,1260.9 L1612.7,1260.9 L1612.9,1261.0 L1613.1,1261.0 L1613.3,1261.1 L1613.5,1261.1 L1613.7,1261.2 L1613.9,1261.2 L1614.1,1261.2 L1614.3,1261.3 L1614.5,1261.3 L1614.7,1261.4 L1614.9,1261.4 L1615.1,1261.5 L1615.3,1261.5 L1615.5,1261.5 L1615.7,1261.6 L1615.9,1261.6 L1616.1,1261.7 L1616.3,1261.7 L1616.5,1261.8 L1616.7,1261.8 L1616.9,1261.8 L1617.1,1261.9 L1617.4,1261.9 L1617.6,1262.0 L1618.1,1262.1 L1618.6,1262.2 L1619.1,1262.3 L1619.6,1262.4 L1620.1,1262.5 L1620.6,1262.6 L1621.1,1262.7 L1621.6,1262.9 L1622.2,1263.0 L1622.7,1263.2 L1623.2,1263.3 L1623.7,1263.5 L1624.2,1263.6 L1624.7,1263.8 L1625.2,1264.0 L1625.7,1264.2 L1626.2,1264.5 L1626.7,1264.7 L1627.3,1265.0 L1627.8,1265.4 L1628.3,1265.7 L1628.8,1266.1 L1629.3,1266.5 L1629.8,1266.9 L1630.3,1267.3 L1630.8,1267.8 L1631.3,1268.3 L1631.9,1268.8 L1632.4,1269.3 L1632.9,1269.8 L1633.4,1270.4 L1633.9,1270.9 L1634.4,1271.4 L1634.9,1272.0 L1635.4,1272.6 L1635.9,1273.2 L1636.5,1273.8 L1637.0,1274.3 L1637.5,1274.9 L1638.0,1275.4 L1638.5,1275.8 L1639.0,1276.3 L1639.5,1276.7 L1640.0,1277.1 L1640.5,1277.5 L1641.0,1277.9 L1641.6,1278.2 L1642.1,1278.5 L1642.6,1278.7 L1643.1,1279.0 L1643.6,1279.2 L1644.1,1279.4 L1644.6,1279.6 L1645.1,1279.8 L1645.6,1280.0 L1646.2,1280.1 L1646.7,1280.2 L1647.2,1280.3 L1647.7,1280.4 L1648.2,1280.5 L1648.7,1280.6 L1649.2,1280.6 L1649.7,1280.7 L1650.2,1280.7 L1650.8,1280.7 L1651.3,1280.7 L1651.8,1280.7 L1652.3,1280.7 L1652.8,1280.7 L1653.3,1280.7 L1653.8,1280.7 L1654.3,1280.7 L1654.8,1280.7 L1655.3,1280.7 L1655.9,1280.7 L1656.4,1280.7 L1656.9,1280.7 L1657.4,1280.7 L1657.9,1280.7 L1658.4,1280.7 L1658.9,1280.7 L1659.4,1280.7 L1659.9,1280.7 L1660.5,1280.7 L1661.0,1280.7 L1661.5,1280.7 L1662.0,1280.7 L1662.5,1280.7 L1663.0,1280.7 L1663.5,1280.7 L1664.0,1280.7 L1664.5,1280.7 L1665.1,1280.7 L1665.6,1280.7 L1666.1,1280.7 L1666.6,1280.7 L1667.1,1280.7 L1667.6,1280.7 L1668.1,1280.7 L1668.6,1280.7 L1669.1,1280.7 L1669.6,1280.7 L1670.2,1280.7 L1670.7,1280.7 L1671.2,1280.7 L1671.7,1280.7 L1672.2,1280.7 L1672.7,1280.7 L1673.2,1280.7 L1673.7,1280.7 L1674.2,1280.7 L1674.8,1280.7 L1675.3,1280.7 L1675.8,1280.7 L1676.3,1280.7 L1676.8,1280.7 L1677.3,1280.7 L1677.8,1280.7 L1678.3,1280.7 L1678.8,1280.7 L1682.1,1280.7 L1685.4,1280.7 L1688.6,1280.7 L1691.9,1280.7 L1695.2,1280.7 L1698.5,1280.7 L1701.7,1280.7 L1705.0,1280.7 L1708.3,1280.7 L1711.5,1280.7 L1714.8,1280.7 L1718.1,1280.7 L1721.3,1280.7 L1724.6,1280.7 L1727.9,1280.7 L1731.1,1280.7 L1734.4,1280.7 L1737.7,1280.7 L1740.9,1280.7 L1744.2,1280.7 L1747.5,1280.7 L1750.7,1280.7 L1754.0,1280.7 L1757.3,1280.7 L1760.6,1280.7 L1763.8,1280.7 L1767.1,1280.7 L1770.4,1280.7 L1773.6,1280.7 L1776.9,1280.7 L1780.2,1280.7 L1783.4,1280.7 L1786.7,1280.7 L1790.0,1280.7 L1793.2,1280.7 L1796.5,1280.7 L1799.8,1280.7 L1803.0,1280.7 L1806.3,1280.7 L1809.6,1280.7" stroke="#ff7f0e"/>
</g>

<rect x="1595.5" y="1110.3" width="224.8" height="177.8" fill="none" stroke="#000" stroke-width="0.85"/>
<path d="M1605.3,1288.1 v3.6" stroke="#000" stroke-width="0.85"/>
<text x="1605.3" y="1308.3" font-size="12.2" text-anchor="middle">0</text>
<path d="M1656.4,1288.1 v3.6" stroke="#000" stroke-width="0.85"/>
<text x="1656.4" y="1308.3" font-size="12.2" text-anchor="middle">250</text>
<path d="M1707.4,1288.1 v3.6" stroke="#000" stroke-width="0.85"/>
<text x="1707.4" y="1308.3" font-size="12.2" text-anchor="middle">500</text>
<path d="M1758.5,1288.1 v3.6" stroke="#000" stroke-width="0.85"/>
<text x="1758.5" y="1308.3" font-size="12.2" text-anchor="middle">750</text>
<path d="M1809.6,1288.1 v3.6" stroke="#000" stroke-width="0.85"/>
<text x="1809.6" y="1308.3" font-size="12.2" text-anchor="middle">1000</text>
<path d="M1595.5,1147.1 h-3.6" stroke="#000" stroke-width="0.85"/>
<text x="1585.7" y="1151.7" font-size="12.2" text-anchor="end">1.5</text>
<path d="M1595.5,1191.6 h-3.6" stroke="#000" stroke-width="0.85"/>
<text x="1585.7" y="1196.2" font-size="12.2" text-anchor="end">1.0</text>
<path d="M1595.5,1236.2 h-3.6" stroke="#000" stroke-width="0.85"/>
<text x="1585.7" y="1240.8" font-size="12.2" text-anchor="end">0.5</text>
<path d="M1595.5,1280.7 h-3.6" stroke="#000" stroke-width="0.85"/>
<text x="1585.7" y="1285.3" font-size="12.2" text-anchor="end">0.0</text>
<text x="1707.9" y="1329.7" font-size="19.4" text-anchor="middle">Rounds</text>
<text x="1707.9" y="1102.6" font-size="19.3" text-anchor="middle">loss</text></svg>
<svg width="2768" height="1930" style="left:0;top:0" fill="#000"><path d="M2288.4,1049.1 L2288.4,587.9" stroke="#000" stroke-width="1.35" fill="none"/><path d="M2288.4,581.2 L2291.7,589.4 L2285.1,589.4 Z" fill="#000"/>
<path d="M1966.4,885.6 L2710.0,885.6" stroke="#000" stroke-width="1.35" fill="none"/><path d="M2716.7,885.6 L2708.5,888.9 L2708.5,882.3 Z" fill="#000"/>
<path d="M2263.5,633.5 H2702" stroke="#000" stroke-width="1.3" stroke-dasharray="1.3 1.5" fill="none"/>
<path d="M2657,615.4 V924.5" stroke="#000" stroke-width="1.3" stroke-dasharray="1.3 1.5" fill="none"/>
<rect x="1968.3" y="626.6" width="229.4" height="66.3" rx="9" fill="#4aa49c"/><text font-family="Liberation Sans, DejaVu Sans, sans-serif" font-weight="bold" font-size="20.2" fill="#fff" text-anchor="middle" x="2083.0" y="654.6" textLength="160.6" lengthAdjust="spacingAndGlyphs">Self-correction of</text><text font-family="Liberation Sans, DejaVu Sans, sans-serif" font-weight="bold" font-size="20.2" fill="#fff" text-anchor="middle" x="2083.0" y="679.9" textLength="114" lengthAdjust="spacingAndGlyphs">the 1st layer</text>
<rect x="2408.2" y="555.6" width="228.9" height="66.4" rx="9" fill="#55ab31"/><text font-family="Liberation Sans, DejaVu Sans, sans-serif" font-weight="bold" font-size="20.2" fill="#fff" text-anchor="middle" x="2522.6" y="583.9" textLength="166.5" lengthAdjust="spacingAndGlyphs">Convergence with</text><text font-family="Liberation Sans, DejaVu Sans, sans-serif" font-weight="bold" font-size="20.2" fill="#fff" text-anchor="middle" x="2522.6" y="608.7" textLength="136" lengthAdjust="spacingAndGlyphs">linear speedup</text>
<rect x="1968.3" y="989.9" width="187.5" height="66.5" rx="9" fill="#ec6d58"/><text font-family="Liberation Sans, DejaVu Sans, sans-serif" font-weight="bold" font-size="20.2" fill="#fff" text-anchor="middle" x="2062.1" y="1018.1" textLength="160.6" lengthAdjust="spacingAndGlyphs">Self-correction of</text><text font-family="Liberation Sans, DejaVu Sans, sans-serif" font-weight="bold" font-size="20.2" fill="#fff" text-anchor="middle" x="2062.1" y="1042" textLength="120" lengthAdjust="spacingAndGlyphs">the 2nd layer</text>
<rect x="2529.7" y="812.5" width="115.1" height="64.3" rx="10" fill="#fff" stroke="#000" stroke-width="1.3"/><text font-family="Liberation Sans, DejaVu Sans, sans-serif" font-weight="bold" font-size="19.6" fill="#000" text-anchor="middle" x="2587.2" y="840" textLength="91" lengthAdjust="spacingAndGlyphs">Attraction</text><text font-family="Liberation Sans, DejaVu Sans, sans-serif" font-weight="bold" font-size="19.6" fill="#000" text-anchor="middle" x="2587.2" y="864.4" textLength="49.5" lengthAdjust="spacingAndGlyphs">basin</text>
<circle cx="1986.9" cy="795.6" r="10.5" fill="#ec6d58"/>
<circle cx="2036.4" cy="727.2" r="10.5" fill="#4aa49c"/>
<circle cx="2128.4" cy="738.7" r="10.5" fill="#4aa49c"/>
<circle cx="2325.4" cy="750.2" r="10.5" fill="#4aa49c"/>
<circle cx="2409.5" cy="803.1" r="10.5" fill="#55ab31"/>
<circle cx="2482.6" cy="715.7" r="10.5" fill="#55ab31"/>
<circle cx="2656.8" cy="633.5" r="10.5" fill="#55ab31"/>
<circle cx="2087.1" cy="956.7" r="10.5" fill="#ec6d58"/>
<circle cx="2167.1" cy="968.6" r="10.5" fill="#ec6d58"/>
<circle cx="2288.4" cy="633.5" r="4.3" fill="#000"/><circle cx="2656.8" cy="885.8" r="4.4" fill="#000"/>
<path d="M1997.1,781.1 L2023.2,746.1" stroke="#000" stroke-width="1.35" fill="none"/><path d="M2026.8,741.2 L2024.7,749.1 L2019.8,745.4 Z" fill="#000"/>
<path d="M2048.4,729.7 L2106.3,737.0" stroke="#000" stroke-width="1.35" fill="none"/><path d="M2112.4,737.8 L2104.5,739.9 L2105.2,733.8 Z" fill="#000"/>
<path d="M2143.3,737.0 L2202.9,721.3" stroke="#000" stroke-width="1.35" fill="none"/><path d="M2208.8,719.8 L2202.2,724.7 L2200.7,718.7 Z" fill="#000"/>
<path d="M2245.8,725.5 L2303.1,742.9" stroke="#000" stroke-width="1.35" fill="none"/><path d="M2308.9,744.7 L2300.7,745.5 L2302.5,739.5 Z" fill="#000"/>
<path d="M2337.6,759.4 L2393.5,793.1" stroke="#000" stroke-width="1.35" fill="none"/><path d="M2398.7,796.2 L2390.6,794.9 L2393.8,789.6 Z" fill="#000"/>
<path d="M2422.1,792.8 L2472.0,732.6" stroke="#000" stroke-width="1.35" fill="none"/><path d="M2475.9,727.9 L2473.4,735.7 L2468.7,731.8 Z" fill="#000"/>
<path d="M2501.7,718.4 L2556.7,725.8" stroke="#000" stroke-width="1.35" fill="none"/><path d="M2562.7,726.6 L2554.8,728.7 L2555.6,722.5 Z" fill="#000"/>
<path d="M2604.7,719.3 L2646.9,650.7" stroke="#000" stroke-width="1.35" fill="none"/><path d="M2650.1,645.5 L2648.8,653.6 L2643.5,650.3 Z" fill="#000"/>
<path d="M2007.6,891.6 L1991.1,857.2" stroke="#000" stroke-width="1.35" fill="none"/><path d="M1988.5,851.7 L1994.6,857.2 L1989.0,859.9 Z" fill="#000"/>
<path d="M2073.7,949.4 L2034.8,924.0" stroke="#000" stroke-width="1.35" fill="none"/><path d="M2029.7,920.7 L2037.8,922.3 L2034.4,927.4 Z" fill="#000"/>
<path d="M2155.8,970.1 L2107.2,963.9" stroke="#000" stroke-width="1.35" fill="none"/><path d="M2101.1,963.1 L2109.0,961.0 L2108.2,967.1 Z" fill="#000"/>
<text font-family="Liberation Sans, DejaVu Sans, sans-serif" font-weight="bold" font-size="20" text-anchor="middle" x="2228.7" y="724.6">...</text>
<text font-family="Liberation Sans, DejaVu Sans, sans-serif" font-weight="bold" font-size="20" text-anchor="middle" x="2586.9" y="736.5">...</text>
<text font-family="Liberation Sans, DejaVu Sans, sans-serif" font-weight="bold" font-size="20" text-anchor="middle" x="2011.2" y="908.1">...</text>
<text font-family="Liberation Serif, DejaVu Serif, serif" font-style="italic" font-size="23.5" x="2290.7" y="575.5">a<tspan font-size="15" dy="5">t</tspan><tspan font-family="Liberation Sans, DejaVu Sans, sans-serif" font-style="normal" font-size="14" dy="-14.5" dx="0.5">⊤</tspan><tspan dy="9.5" dx="1">a*</tspan></text>
<text font-family="Liberation Serif, DejaVu Serif, serif" font-size="17.5" x="2241.4" y="620.5" textLength="42.2" lengthAdjust="spacingAndGlyphs">‖<tspan font-style="italic">a</tspan>*‖<tspan font-size="12" dy="-7">2</tspan></text>
<text font-family="Liberation Serif, DejaVu Serif, serif" font-style="italic" font-size="23.5" x="2314.2" y="715" textLength="70.2" lengthAdjust="spacingAndGlyphs"><tspan font-style="normal">(</tspan>a<tspan font-size="17" dy="5.5">τ</tspan><tspan font-size="12" dy="3.5">v</tspan><tspan dy="-9" font-style="normal">, </tspan>v<tspan font-size="17" dy="5.5">τ</tspan><tspan font-size="12" dy="3.5">v</tspan><tspan dy="-9" font-style="normal">)</tspan></text>
<text font-family="Liberation Serif, DejaVu Serif, serif" font-style="italic" font-size="23.5" x="2666.1" y="609.6" textLength="67.4" lengthAdjust="spacingAndGlyphs"><tspan font-style="normal">(</tspan>a<tspan font-size="16.5" dy="5.5">T</tspan><tspan dy="-5.5" font-style="normal">, </tspan>v<tspan font-size="16.5" dy="5.5">T</tspan><tspan dy="-5.5" font-style="normal">)</tspan></text>
<clipPath id="cpa"><rect x="1940" y="800" width="100" height="44.8"/></clipPath><clipPath id="cpb"><rect x="2180" y="920" width="90" height="38.6"/></clipPath>
<text clip-path="url(#cpa)" font-family="Liberation Serif, DejaVu Serif, serif" font-style="italic" font-size="23.5" x="1951.1" y="837.9" textLength="71.8" lengthAdjust="spacingAndGlyphs"><tspan font-style="normal">(</tspan>a<tspan font-size="17" dy="5.5">τ</tspan><tspan font-size="12" dy="3.5">a</tspan><tspan dy="-9" font-style="normal">, </tspan>v<tspan font-size="17" dy="5.5">τ</tspan><tspan font-size="12" dy="3.5">a</tspan><tspan dy="-9" font-style="normal">)</tspan></text>
<text clip-path="url(#cpb)" font-family="Liberation Serif, DejaVu Serif, serif" font-style="italic" font-size="23.5" x="2188.7" y="952.9" textLength="62.9" lengthAdjust="spacingAndGlyphs"><tspan font-style="normal">(</tspan>a<tspan font-size="16.5" dy="5.5" font-style="normal">0</tspan><tspan dy="-5.5" font-style="normal">, </tspan>v<tspan font-size="16.5" dy="5.5" font-style="normal">0</tspan><tspan dy="-5.5" font-style="normal">)</tspan></text>
<text font-family="Liberation Sans, DejaVu Sans, sans-serif" font-weight="bold" font-size="17.8" x="2634.6" y="919.1">1</text>
<text font-family="Liberation Serif, DejaVu Serif, serif" font-size="24.5" x="2679.5" y="920.7" textLength="54" lengthAdjust="spacingAndGlyphs">cos <tspan font-style="italic">ϕ</tspan><tspan font-style="italic" font-size="15" dy="5">t</tspan></text></svg>
<svg width="2768" height="1930" style="left:0;top:0" fill="#000"><rect x="436.3" y="1493" width="161.9" height="57.0" rx="8.5" fill="#ec6f59"/><text font-family="Liberation Sans, DejaVu Sans, sans-serif" font-weight="bold" font-size="14.6" fill="#fff" text-anchor="middle" x="517.2" y="1527" textLength="41" lengthAdjust="spacingAndGlyphs">Server</text>
<rect x="223.6" y="1613.2" width="78.0" height="47.9" rx="7.5" fill="#347873"/><text font-family="Liberation Sans, DejaVu Sans, sans-serif" font-weight="bold" font-size="14.6" fill="#fff" text-anchor="middle" x="261.9" y="1643.3" textLength="46" lengthAdjust="spacingAndGlyphs">Client 1</text>
<rect x="395.1" y="1610.9" width="79.5" height="48.9" rx="7.5" fill="#347873"/><text font-family="Liberation Sans, DejaVu Sans, sans-serif" font-weight="bold" font-size="14.6" fill="#fff" text-anchor="middle" x="434.8" y="1641" textLength="47.8" lengthAdjust="spacingAndGlyphs">Client 2</text>
<rect x="704.2" y="1610.9" width="79.6" height="48.9" rx="7.5" fill="#347873"/><text font-family="Liberation Sans, DejaVu Sans, sans-serif" font-weight="bold" font-size="14.6" fill="#fff" text-anchor="middle" x="743.8" y="1641" textLength="49.3" lengthAdjust="spacingAndGlyphs">Client N</text>
<text font-family="Liberation Sans, DejaVu Sans, sans-serif" font-weight="bold" font-size="15" text-anchor="middle" x="589" y="1646.2">...</text>
<path d="M515.3,1552.8 L263.4,1607.8" stroke="#000" stroke-width="1.0" fill="none"/><path d="M258.8,1608.8 L264.4,1605.2 L265.3,1609.7 Z" fill="#000"/>
<path d="M515.3,1552.8 L444.9,1605.2" stroke="#000" stroke-width="1.0" fill="none"/><path d="M441.1,1608.0 L444.7,1602.5 L447.4,1606.1 Z" fill="#000"/>
<path d="M515.5,1552.8 L740.8,1604.8" stroke="#000" stroke-width="1.0" fill="none"/><path d="M745.4,1605.9 L738.8,1606.7 L739.9,1602.3 Z" fill="#000"/>
<path d="M262.7,1705.5 L262.7,1724.4" stroke="#000" stroke-width="1.0" fill="none"/><path d="M262.7,1728.5 L260.5,1722.9 L264.9,1722.9 Z" fill="#000"/>
<path d="M262.7,1739.4 L262.7,1758.3" stroke="#000" stroke-width="1.0" fill="none"/><path d="M262.7,1762.4 L260.5,1756.8 L264.9,1756.8 Z" fill="#000"/>
<path d="M435.1,1705.5 L435.1,1724.4" stroke="#000" stroke-width="1.0" fill="none"/><path d="M435.1,1728.5 L432.9,1722.9 L437.3,1722.9 Z" fill="#000"/>
<path d="M435.1,1739.4 L435.1,1758.3" stroke="#000" stroke-width="1.0" fill="none"/><path d="M435.1,1762.4 L432.9,1756.8 L437.3,1756.8 Z" fill="#000"/>
<path d="M744.5,1705.5 L744.5,1724.4" stroke="#000" stroke-width="1.0" fill="none"/><path d="M744.5,1728.5 L742.3,1722.9 L746.7,1722.9 Z" fill="#000"/>
<path d="M744.5,1739.4 L744.5,1758.3" stroke="#000" stroke-width="1.0" fill="none"/><path d="M744.5,1762.4 L742.3,1756.8 L746.7,1756.8 Z" fill="#000"/>
<path d="M270.9,1797.7 L473.7,1842.7" stroke="#000" stroke-width="1.0" fill="none"/><path d="M478.3,1843.7 L471.7,1844.6 L472.7,1840.1 Z" fill="#000"/>
<path d="M446.3,1798.3 L490.4,1841.5" stroke="#000" stroke-width="1.0" fill="none"/><path d="M493.8,1844.8 L487.8,1842.1 L491.0,1838.8 Z" fill="#000"/>
<path d="M727.4,1798.1 L515.1,1841.5" stroke="#000" stroke-width="1.0" fill="none"/><path d="M510.5,1842.4 L516.1,1838.9 L517.0,1843.4 Z" fill="#000"/>
<text font-family="Liberation Serif, DejaVu Serif, serif" font-style="italic" font-size="13.2" x="332.2" y="1573.9" textLength="37" lengthAdjust="spacingAndGlyphs"><tspan font-style="normal">(</tspan>v<tspan font-size="8.6" dy="3.2">t</tspan><tspan font-size="6.2" dy="1.6">r</tspan><tspan dy="-4.8" font-style="normal">, </tspan>a<tspan font-size="8.6" dy="3.2">t</tspan><tspan font-size="6.2" dy="1.6">r</tspan><tspan dy="-4.8" font-style="normal">)</tspan></text>
<text font-family="Liberation Serif, DejaVu Serif, serif" font-style="italic" font-size="13.2" x="489" y="1598.8" textLength="37" lengthAdjust="spacingAndGlyphs"><tspan font-style="normal">(</tspan>v<tspan font-size="8.6" dy="3.2">t</tspan><tspan font-size="6.2" dy="1.6">r</tspan><tspan dy="-4.8" font-style="normal">, </tspan>a<tspan font-size="8.6" dy="3.2">t</tspan><tspan font-size="6.2" dy="1.6">r</tspan><tspan dy="-4.8" font-style="normal">)</tspan></text>
<text font-family="Liberation Serif, DejaVu Serif, serif" font-style="italic" font-size="13.2" x="623.4" y="1573.9" textLength="37" lengthAdjust="spacingAndGlyphs"><tspan font-style="normal">(</tspan>v<tspan font-size="8.6" dy="3.2">t</tspan><tspan font-size="6.2" dy="1.6">r</tspan><tspan dy="-4.8" font-style="normal">, </tspan>a<tspan font-size="8.6" dy="3.2">t</tspan><tspan font-size="6.2" dy="1.6">r</tspan><tspan dy="-4.8" font-style="normal">)</tspan></text>
<text font-family="Liberation Serif, DejaVu Serif, serif" font-style="italic" font-size="17.6" x="226.4" y="1690.2" textLength="71.9" lengthAdjust="spacingAndGlyphs"><tspan font-style="normal">(</tspan>v<tspan font-size="11.6" dy="-7.2" font-style="normal">1</tspan><tspan font-size="11.6" dy="12" dx="-6.4">t</tspan><tspan font-size="8" dy="2">r</tspan><tspan font-size="11.6" dy="-2" font-style="normal">+1</tspan><tspan dy="-4.8" font-style="normal">, </tspan>a<tspan font-size="11.6" dy="-7.2" font-style="normal">1</tspan><tspan font-size="11.6" dy="12" dx="-6.4">t</tspan><tspan font-size="8" dy="2">r</tspan><tspan font-size="11.6" dy="-2" font-style="normal">+1</tspan><tspan dy="-4.8" font-style="normal">)</tspan></text>
<text font-family="Liberation Serif, DejaVu Serif, serif" font-style="italic" font-size="17.6" x="399.3" y="1690.2" textLength="70.9" lengthAdjust="spacingAndGlyphs"><tspan font-style="normal">(</tspan>v<tspan font-size="11.6" dy="-7.2" font-style="normal">2</tspan><tspan font-size="11.6" dy="12" dx="-6.4">t</tspan><tspan font-size="8" dy="2">r</tspan><tspan font-size="11.6" dy="-2" font-style="normal">+1</tspan><tspan dy="-4.8" font-style="normal">, </tspan>a<tspan font-size="11.6" dy="-7.2" font-style="normal">2</tspan><tspan font-size="11.6" dy="12" dx="-6.4">t</tspan><tspan font-size="8" dy="2">r</tspan><tspan font-size="11.6" dy="-2" font-style="normal">+1</tspan><tspan dy="-4.8" font-style="normal">)</tspan></text>
<text font-family="Liberation Serif, DejaVu Serif, serif" font-style="italic" font-size="17.6" x="708.1" y="1690.2" textLength="71.3" lengthAdjust="spacingAndGlyphs"><tspan font-style="normal">(</tspan>v<tspan font-size="11.6" dy="-7.2" font-style="italic">N</tspan><tspan font-size="11.6" dy="12" dx="-8.6">t</tspan><tspan font-size="8" dy="2">r</tspan><tspan font-size="11.6" dy="-2" font-style="normal">+1</tspan><tspan dy="-4.8" font-style="normal">, </tspan>a<tspan font-size="11.6" dy="-7.2" font-style="italic">N</tspan><tspan font-size="11.6" dy="12" dx="-8.6">t</tspan><tspan font-size="8" dy="2">r</tspan><tspan font-size="11.6" dy="-2" font-style="normal">+1</tspan><tspan dy="-4.8" font-style="normal">)</tspan></text>
<text font-family="Liberation Serif, DejaVu Serif, serif" font-style="italic" font-size="17.6" x="230.7" y="1785.8" textLength="63.6" lengthAdjust="spacingAndGlyphs"><tspan font-style="normal">(</tspan>v<tspan font-size="11.6" dy="-7.2" font-style="normal">1</tspan><tspan font-size="11.6" dy="12" dx="-6.4">t</tspan><tspan font-size="8" dy="2.2">r<tspan font-style="normal">+1</tspan></tspan><tspan dy="-7" font-style="normal">, </tspan>a<tspan font-size="11.6" dy="-7.2" font-style="normal">1</tspan><tspan font-size="11.6" dy="12" dx="-6.4">t</tspan><tspan font-size="8" dy="2.2">r<tspan font-style="normal">+1</tspan></tspan><tspan dy="-7" font-style="normal">)</tspan></text>
<text font-family="Liberation Serif, DejaVu Serif, serif" font-style="italic" font-size="17.6" x="403.1" y="1785.8" textLength="63.3" lengthAdjust="spacingAndGlyphs"><tspan font-style="normal">(</tspan>v<tspan font-size="11.6" dy="-7.2" font-style="normal">2</tspan><tspan font-size="11.6" dy="12" dx="-6.4">t</tspan><tspan font-size="8" dy="2.2">r<tspan font-style="normal">+1</tspan></tspan><tspan dy="-7" font-style="normal">, </tspan>a<tspan font-size="11.6" dy="-7.2" font-style="normal">2</tspan><tspan font-size="11.6" dy="12" dx="-6.4">t</tspan><tspan font-size="8" dy="2.2">r<tspan font-style="normal">+1</tspan></tspan><tspan dy="-7" font-style="normal">)</tspan></text>
<text font-family="Liberation Serif, DejaVu Serif, serif" font-style="italic" font-size="17.6" x="712.4" y="1785.8" textLength="63.5" lengthAdjust="spacingAndGlyphs"><tspan font-style="normal">(</tspan>v<tspan font-size="11.6" dy="-7.2" font-style="italic">N</tspan><tspan font-size="11.6" dy="12" dx="-8.6">t</tspan><tspan font-size="8" dy="2.2">r<tspan font-style="normal">+1</tspan></tspan><tspan dy="-7" font-style="normal">, </tspan>a<tspan font-size="11.6" dy="-7.2" font-style="italic">N</tspan><tspan font-size="11.6" dy="12" dx="-8.6">t</tspan><tspan font-size="8" dy="2.2">r<tspan font-style="normal">+1</tspan></tspan><tspan dy="-7" font-style="normal">)</tspan></text>
<text font-size="13.8" fill="#935a7e" x="558.4" y="1735" textLength="61.7" lengthAdjust="spacingAndGlyphs"><tspan font-family="Liberation Serif, DejaVu Serif, serif" font-style="italic" font-size="15.5">I</tspan><tspan font-family="Liberation Sans, DejaVu Sans, sans-serif" font-weight="bold"> steps of</tspan></text>
<text font-family="Liberation Sans, DejaVu Sans, sans-serif" font-weight="bold" font-size="13.8" fill="#935a7e" x="549.7" y="1751.7" textLength="79.2" lengthAdjust="spacingAndGlyphs">local update</text>
<rect x="377.5" y="1849.4" width="260.4" height="57.7" fill="#fff" stroke="#ec7b68" stroke-width="1.3"/>
<text font-family="Liberation Serif, DejaVu Serif, serif" font-style="italic" font-size="17.6" x="383" y="1883.2" textLength="78.6" lengthAdjust="spacingAndGlyphs"><tspan font-style="normal">(</tspan>v<tspan font-size="11.6" dy="5">t</tspan><tspan font-size="8" dy="2.2">r<tspan font-style="normal">+1</tspan></tspan><tspan dy="-7.2" font-style="normal">, </tspan>a<tspan font-size="11.6" dy="5">t</tspan><tspan font-size="8" dy="2.2">r<tspan font-style="normal">+1</tspan></tspan><tspan dy="-7.2" font-style="normal">) =</tspan></text>
<text font-family="Liberation Serif, DejaVu Serif, serif" font-size="30" x="0" y="0" transform="translate(467.4,1892) scale(1.15,1.85)">(</text>
<text font-family="Liberation Serif, DejaVu Serif, serif" font-size="30" x="0" y="0" transform="translate(619.6,1892) scale(1.15,1.85)">)</text>
<text font-family="Liberation Serif, DejaVu Serif, serif" font-size="17.6" text-anchor="middle" x="488.4" y="1872.1">1</text><path d="M481.4,1878.8 h14" stroke="#000" stroke-width="1"/><text font-family="Liberation Serif, DejaVu Serif, serif" font-style="italic" font-size="17.6" text-anchor="middle" x="488.4" y="1895.1">N</text>
<text font-family="Liberation Serif, DejaVu Serif, serif" font-size="29" text-anchor="middle" x="509.3" y="1885.3">∑</text><text font-family="Liberation Serif, DejaVu Serif, serif" font-style="italic" font-size="11.6" text-anchor="middle" x="509.8" y="1864.4">N</text><text font-family="Liberation Serif, DejaVu Serif, serif" font-size="11.6" text-anchor="middle" x="509.3" y="1903.1"><tspan font-style="italic">i</tspan>=1</text>
<text font-family="Liberation Serif, DejaVu Serif, serif" font-size="17.6" text-anchor="middle" x="561.8" y="1872.1">1</text><path d="M554.8,1878.8 h14" stroke="#000" stroke-width="1"/><text font-family="Liberation Serif, DejaVu Serif, serif" font-style="italic" font-size="17.6" text-anchor="middle" x="561.8" y="1895.1">N</text>
<text font-family="Liberation Serif, DejaVu Serif, serif" font-size="29" text-anchor="middle" x="582.4" y="1885.3">∑</text><text font-family="Liberation Serif, DejaVu Serif, serif" font-style="italic" font-size="11.6" text-anchor="middle" x="582.9" y="1864.4">N</text><text font-family="Liberation Serif, DejaVu Serif, serif" font-size="11.6" text-anchor="middle" x="582.4" y="1903.1"><tspan font-style="italic">i</tspan>=1</text>
<text font-family="Liberation Serif, DejaVu Serif, serif" font-style="italic" font-size="17.6" x="522.8" y="1883.2">v<tspan font-size="11.6" dy="-7.2">i</tspan><tspan font-size="11.6" dy="12.2" dx="-3.4">t</tspan><tspan font-size="8" dy="2.2">r<tspan font-style="normal">+1</tspan></tspan><tspan dy="-7.2" font-style="normal">,</tspan></text>
<text font-family="Liberation Serif, DejaVu Serif, serif" font-style="italic" font-size="17.6" x="595.7" y="1883.2">a<tspan font-size="11.6" dy="-7.2">i</tspan><tspan font-size="11.6" dy="12.2" dx="-3.4">t</tspan><tspan font-size="8" dy="2.2">r<tspan font-style="normal">+1</tspan></tspan></text></svg>
<svg width="2768" height="1930" style="left:0;top:0"><g transform="translate(300,1060) scale(0.182927)"><path d="M150,155 L1245,92.0" stroke="#e9e9e9" stroke-width="3.2" fill="none"/>
<path d="M1245,92.0 L2107,178.0" stroke="#e9e9e9" stroke-width="3.2" fill="none"/>
<path d="M118,155 L150,155" stroke="#777" stroke-width="3.4" fill="none"/>
<path d="M150,335 L1245,271.3" stroke="#e9e9e9" stroke-width="3.2" fill="none"/>
<path d="M1245,271.3 L2107,357.6" stroke="#e9e9e9" stroke-width="3.2" fill="none"/>
<path d="M118,335 L150,335" stroke="#777" stroke-width="3.4" fill="none"/>
<path d="M150,515 L1245,450.6" stroke="#e9e9e9" stroke-width="3.2" fill="none"/>
<path d="M1245,450.6 L2107,537.1" stroke="#e9e9e9" stroke-width="3.2" fill="none"/>
<path d="M118,515 L150,515" stroke="#777" stroke-width="3.4" fill="none"/>
<path d="M150,690 L1245,624.9" stroke="#e9e9e9" stroke-width="3.2" fill="none"/>
<path d="M1245,624.9 L2107,711.7" stroke="#e9e9e9" stroke-width="3.2" fill="none"/>
<path d="M118,690 L150,690" stroke="#777" stroke-width="3.4" fill="none"/>
<path d="M150,870 L1245,804.1" stroke="#e9e9e9" stroke-width="3.2" fill="none"/>
<path d="M1245,804.1 L2107,891.3" stroke="#e9e9e9" stroke-width="3.2" fill="none"/>
<path d="M118,870 L150,870" stroke="#777" stroke-width="3.4" fill="none"/>
<path d="M150,1048 L1245,981.4" stroke="#e9e9e9" stroke-width="3.2" fill="none"/>
<path d="M1245,981.4 L2107,1068.9" stroke="#e9e9e9" stroke-width="3.2" fill="none"/>
<path d="M118,1048 L150,1048" stroke="#777" stroke-width="3.4" fill="none"/>
<path d="M150,1228 L1245,1160.7" stroke="#e9e9e9" stroke-width="3.2" fill="none"/>
<path d="M1245,1160.7 L2107,1248.4" stroke="#e9e9e9" stroke-width="3.2" fill="none"/>
<path d="M118,1228 L150,1228" stroke="#777" stroke-width="3.4" fill="none"/>
<path d="M150,1408 L1245,1340.0" stroke="#e9e9e9" stroke-width="3.2" fill="none"/>
<path d="M1245,1340.0 L2107,1428.0" stroke="#e9e9e9" stroke-width="3.2" fill="none"/>
<path d="M118,1408 L150,1408" stroke="#777" stroke-width="3.4" fill="none"/>
<path d="M330,144.6 L330,1396.8" stroke="#e9e9e9" stroke-width="3.2" fill="none"/>
<path d="M515,134.0 L515,1385.3" stroke="#e9e9e9" stroke-width="3.2" fill="none"/>
<path d="M697,123.5 L697,1374.0" stroke="#e9e9e9" stroke-width="3.2" fill="none"/>
<path d="M880,113.0 L880,1362.7" stroke="#e9e9e9" stroke-width="3.2" fill="none"/>
<path d="M1063,102.5 L1063,1351.3" stroke="#e9e9e9" stroke-width="3.2" fill="none"/>
<path d="M1245,92.0 L1245,1340.0" stroke="#e9e9e9" stroke-width="3.2" fill="none"/>
<path d="M1390,106.5 L1390,1354.8" stroke="#e9e9e9" stroke-width="3.2" fill="none"/>
<path d="M1533,120.7 L1533,1369.4" stroke="#e9e9e9" stroke-width="3.2" fill="none"/>
<path d="M1677,135.1 L1677,1384.1" stroke="#e9e9e9" stroke-width="3.2" fill="none"/>
<path d="M1820,149.4 L1820,1398.7" stroke="#e9e9e9" stroke-width="3.2" fill="none"/>
<path d="M1963,163.6 L1963,1413.3" stroke="#e9e9e9" stroke-width="3.2" fill="none"/>
<path d="M2107,178.0 L2107,1428.0" stroke="#e9e9e9" stroke-width="3.2" fill="none"/>
<path d="M332.5,1396.7 L1187.0,1485.5" stroke="#ececec" stroke-width="2.6" fill="none"/>
<path d="M292.2,1422.8 L1388.7,1354.7" stroke="#ececec" stroke-width="2.6" fill="none"/>
<path d="M515.0,1385.3 L1371.0,1474.0" stroke="#ececec" stroke-width="2.6" fill="none"/>
<path d="M434.3,1437.7 L1532.3,1369.3" stroke="#ececec" stroke-width="2.6" fill="none"/>
<path d="M697.5,1374.0 L1555.0,1462.5" stroke="#ececec" stroke-width="2.6" fill="none"/>
<path d="M576.5,1452.5 L1676.0,1384.0" stroke="#ececec" stroke-width="2.6" fill="none"/>
<path d="M880.0,1362.7 L1739.0,1451.0" stroke="#ececec" stroke-width="2.6" fill="none"/>
<path d="M718.7,1467.3 L1819.7,1398.7" stroke="#ececec" stroke-width="2.6" fill="none"/>
<path d="M1062.5,1351.3 L1923.0,1439.5" stroke="#ececec" stroke-width="2.6" fill="none"/>
<path d="M860.8,1482.2 L1963.3,1413.3" stroke="#ececec" stroke-width="2.6" fill="none"/>
<path d="M1245.0,1340.0 L2107.0,1428.0" stroke="#ececec" stroke-width="2.6" fill="none"/>
<path d="M1003.0,1497.0 L2107.0,1428.0" stroke="#ececec" stroke-width="2.6" fill="none"/>
<path d="M150,155 L150,1408" stroke="#6a6a6a" stroke-width="3.6" fill="none"/>
<path d="M150,1408 L1003,1497" stroke="#9a9a9a" stroke-width="3.2" fill="none"/>
<path d="M1003,1497 L2107,1428" stroke="#9a9a9a" stroke-width="3.2" fill="none"/>
<path d="M150.0,1408.0 L150.0,1438.0" stroke="#9a9a9a" stroke-width="3" fill="none"/>
<path d="M1003.0,1497.0 L1003.0,1527.0" stroke="#9a9a9a" stroke-width="3" fill="none"/>
<path d="M292.2,1422.8 L292.2,1452.8" stroke="#9a9a9a" stroke-width="3" fill="none"/>
<path d="M1187.0,1485.5 L1187.0,1515.5" stroke="#9a9a9a" stroke-width="3" fill="none"/>
<path d="M434.3,1437.7 L434.3,1467.7" stroke="#9a9a9a" stroke-width="3" fill="none"/>
<path d="M1371.0,1474.0 L1371.0,1504.0" stroke="#9a9a9a" stroke-width="3" fill="none"/>
<path d="M576.5,1452.5 L576.5,1482.5" stroke="#9a9a9a" stroke-width="3" fill="none"/>
<path d="M1555.0,1462.5 L1555.0,1492.5" stroke="#9a9a9a" stroke-width="3" fill="none"/>
<path d="M718.7,1467.3 L718.7,1497.3" stroke="#9a9a9a" stroke-width="3" fill="none"/>
<path d="M1739.0,1451.0 L1739.0,1481.0" stroke="#9a9a9a" stroke-width="3" fill="none"/>
<path d="M860.8,1482.2 L860.8,1512.2" stroke="#9a9a9a" stroke-width="3" fill="none"/>
<path d="M1923.0,1439.5 L1923.0,1469.5" stroke="#9a9a9a" stroke-width="3" fill="none"/>
<path d="M1003.0,1497.0 L1003.0,1527.0" stroke="#9a9a9a" stroke-width="3" fill="none"/>
<path d="M2107.0,1428.0 L2107.0,1458.0" stroke="#9a9a9a" stroke-width="3" fill="none"/></g><g transform="translate(360,1100) scale(0.143678)"><defs><linearGradient id="par" gradientUnits="userSpaceOnUse" x1="0" y1="85" x2="0" y2="1497"><stop offset="0" stop-color="#faf07a"/><stop offset="0.10" stop-color="#f8e86a"/><stop offset="0.22" stop-color="#f1c766"/><stop offset="0.34" stop-color="#ddd36c"/><stop offset="0.42" stop-color="#b5d182"/><stop offset="0.51" stop-color="#8acba8"/><stop offset="0.59" stop-color="#72bec8"/><stop offset="0.68" stop-color="#62a4e0"/><stop offset="0.76" stop-color="#5684e8"/><stop offset="0.85" stop-color="#4c62e4"/><stop offset="0.93" stop-color="#4444d2"/><stop offset="1" stop-color="#3d30b6"/></linearGradient></defs><path d="M105.0,255.0 C109.2,272.5 120.8,322.5 130.0,360.0 C139.2,397.5 148.3,436.7 160.0,480.0 C171.7,523.3 185.0,573.3 200.0,620.0 C215.0,666.7 231.7,718.3 250.0,760.0 C268.3,801.7 288.3,840.8 310.0,870.0 C331.7,899.2 356.7,919.7 380.0,935.0 C403.3,950.3 427.5,956.7 450.0,962.0 C472.5,967.3 504.2,966.2 515.0,967.0 C524.2,963.3 549.2,957.8 570.0,945.0 C590.8,932.2 616.7,912.5 640.0,890.0 C663.3,867.5 688.3,841.7 710.0,810.0 C731.7,778.3 751.7,740.0 770.0,700.0 C788.3,660.0 805.0,615.0 820.0,570.0 C835.0,525.0 849.2,471.7 860.0,430.0 C870.8,388.3 877.8,353.7 885.0,320.0 C892.2,286.3 900.0,243.3 903.0,228.0 C905.8,240.0 913.0,271.3 920.0,300.0 C927.0,328.7 936.7,368.3 945.0,400.0 C953.3,431.7 962.5,463.3 970.0,490.0 C977.5,516.7 986.7,548.3 990.0,560.0 C993.3,550.0 1001.7,526.7 1010.0,500.0 C1018.3,473.3 1029.2,438.3 1040.0,400.0 C1050.8,361.7 1064.2,310.0 1075.0,270.0 C1085.8,230.0 1096.2,190.8 1105.0,160.0 C1113.8,129.2 1124.2,97.5 1128.0,85.0 C1131.7,99.2 1142.2,135.8 1150.0,170.0 C1157.8,204.2 1165.0,245.0 1175.0,290.0 C1185.0,335.0 1195.8,385.0 1210.0,440.0 C1224.2,495.0 1241.7,560.0 1260.0,620.0 C1278.3,680.0 1298.3,743.3 1320.0,800.0 C1341.7,856.7 1365.0,910.0 1390.0,960.0 C1415.0,1010.0 1441.7,1056.7 1470.0,1100.0 C1498.3,1143.3 1531.7,1188.3 1560.0,1220.0 C1588.3,1251.7 1616.7,1275.3 1640.0,1290.0 C1663.3,1304.7 1682.5,1307.2 1700.0,1308.0 C1717.5,1308.8 1730.0,1306.3 1745.0,1295.0 C1760.0,1283.7 1774.2,1267.5 1790.0,1240.0 C1805.8,1212.5 1825.0,1168.3 1840.0,1130.0 C1855.0,1091.7 1868.3,1048.3 1880.0,1010.0 C1891.7,971.7 1902.0,927.5 1910.0,900.0 C1918.0,872.5 1925.0,854.2 1928.0,845.0 C1925.8,857.5 1921.3,890.8 1915.0,920.0 C1908.7,949.2 1899.2,986.7 1890.0,1020.0 C1880.8,1053.3 1871.7,1085.0 1860.0,1120.0 C1848.3,1155.0 1835.0,1193.3 1820.0,1230.0 C1805.0,1266.7 1788.3,1306.7 1770.0,1340.0 C1751.7,1373.3 1730.0,1406.7 1710.0,1430.0 C1690.0,1453.3 1670.0,1468.8 1650.0,1480.0 C1630.0,1491.2 1610.0,1497.0 1590.0,1497.0 C1570.0,1497.0 1553.3,1490.3 1530.0,1480.0 C1506.7,1469.7 1480.0,1453.3 1450.0,1435.0 C1420.0,1416.7 1383.3,1392.5 1350.0,1370.0 C1316.7,1347.5 1283.3,1320.8 1250.0,1300.0 C1216.7,1279.2 1183.3,1260.8 1150.0,1245.0 C1116.7,1229.2 1083.3,1215.8 1050.0,1205.0 C1016.7,1194.2 983.3,1186.2 950.0,1180.0 C916.7,1173.8 881.7,1170.5 850.0,1168.0 C818.3,1165.5 788.3,1165.5 760.0,1165.0 C731.7,1164.5 706.7,1164.5 680.0,1165.0 C653.3,1165.5 625.0,1168.8 600.0,1168.0 C575.0,1167.2 551.7,1165.5 530.0,1160.0 C508.3,1154.5 490.0,1147.5 470.0,1135.0 C450.0,1122.5 430.0,1107.5 410.0,1085.0 C390.0,1062.5 368.3,1030.8 350.0,1000.0 C331.7,969.2 316.7,936.7 300.0,900.0 C283.3,863.3 266.7,823.3 250.0,780.0 C233.3,736.7 215.0,686.7 200.0,640.0 C185.0,593.3 171.7,543.3 160.0,500.0 C148.3,456.7 139.2,420.8 130.0,380.0 C120.8,339.2 109.2,275.8 105.0,255.0 Z" fill="url(#par)" stroke="url(#par)" stroke-width="2.5" stroke-linejoin="round"/><defs><linearGradient id="bk" gradientUnits="userSpaceOnUse" x1="0" y1="85" x2="0" y2="1400"><stop offset="0" stop-color="#fff" stop-opacity="0.10"/><stop offset="0.55" stop-color="#fff" stop-opacity="0.04"/><stop offset="0.75" stop-color="#3a3ab8" stop-opacity="0.10"/><stop offset="1" stop-color="#2e2aa0" stop-opacity="0.22"/></linearGradient></defs><path d="M990.0,560.0 C993.3,550.0 1001.7,526.7 1010.0,500.0 C1018.3,473.3 1029.2,438.3 1040.0,400.0 C1050.8,361.7 1064.2,310.0 1075.0,270.0 C1085.8,230.0 1096.2,190.8 1105.0,160.0 C1113.8,129.2 1124.2,97.5 1128.0,85.0 C1131.7,99.2 1142.2,135.8 1150.0,170.0 C1157.8,204.2 1165.0,245.0 1175.0,290.0 C1185.0,335.0 1195.8,385.0 1210.0,440.0 C1224.2,495.0 1241.7,560.0 1260.0,620.0 C1278.3,680.0 1298.3,743.3 1320.0,800.0 C1341.7,856.7 1365.0,910.0 1390.0,960.0 C1415.0,1010.0 1441.7,1056.7 1470.0,1100.0 C1498.3,1143.3 1531.7,1188.3 1560.0,1220.0 C1588.3,1251.7 1616.7,1275.3 1640.0,1290.0 C1663.3,1304.7 1690.0,1305.0 1700.0,1308.0 L1710,1390 C1698.3,1391.7 1668.3,1403.3 1640.0,1400.0 C1611.7,1396.7 1575.0,1386.7 1540.0,1370.0 C1505.0,1353.3 1465.0,1326.7 1430.0,1300.0 C1395.0,1273.3 1361.7,1241.7 1330.0,1210.0 C1298.3,1178.3 1266.7,1143.3 1240.0,1110.0 C1213.3,1076.7 1191.7,1045.0 1170.0,1010.0 C1148.3,975.0 1128.3,938.3 1110.0,900.0 C1091.7,861.7 1075.0,820.0 1060.0,780.0 C1045.0,740.0 1031.7,696.7 1020.0,660.0 C1008.3,623.3 995.0,576.7 990.0,560.0 Z" fill="url(#bk)"/><path d="M990.0,560.0 C995.0,576.7 1008.3,623.3 1020.0,660.0 C1031.7,696.7 1045.0,740.0 1060.0,780.0 C1075.0,820.0 1091.7,861.7 1110.0,900.0 C1128.3,938.3 1148.3,975.0 1170.0,1010.0 C1191.7,1045.0 1213.3,1076.7 1240.0,1110.0 C1266.7,1143.3 1298.3,1178.3 1330.0,1210.0 C1361.7,1241.7 1395.0,1273.3 1430.0,1300.0 C1465.0,1326.7 1505.0,1353.3 1540.0,1370.0 C1575.0,1386.7 1611.7,1396.7 1640.0,1400.0 C1668.3,1403.3 1698.3,1391.7 1710.0,1390.0" stroke="#3848b8" stroke-opacity="0.16" stroke-width="6" fill="none"/><path d="M1250.0,1300.0 C1266.7,1311.7 1316.7,1347.5 1350.0,1370.0 C1383.3,1392.5 1420.0,1416.7 1450.0,1435.0 C1480.0,1453.3 1506.7,1469.7 1530.0,1480.0 C1553.3,1490.3 1570.0,1497.0 1590.0,1497.0 C1610.0,1497.0 1630.0,1491.2 1650.0,1480.0 C1670.0,1468.8 1690.0,1453.3 1710.0,1430.0 C1730.0,1406.7 1766.7,1348.3 1770.0,1340.0 C1773.3,1331.7 1746.7,1365.8 1730.0,1380.0 C1713.3,1394.2 1691.7,1415.0 1670.0,1425.0 C1648.3,1435.0 1625.0,1440.8 1600.0,1440.0 C1575.0,1439.2 1548.3,1431.7 1520.0,1420.0 C1491.7,1408.3 1461.7,1388.3 1430.0,1370.0 C1398.3,1351.7 1346.7,1320.0 1330.0,1310.0 Z" fill="#2a2090" fill-opacity="0.12"/></g></svg>
<div class="t sf" style="left:26.5px;top:49.0px;font-size:60px;word-spacing:11.89px;transform:scaleX(0.9250);"><b>Global Convergence Analysis of Local SGD for Two-layer</b></div>
<div class="t sf" style="left:171.5px;top:125.0px;font-size:60px;word-spacing:3.91px;transform:scaleX(0.9830);"><b>Neural Network without Overparameterization</b></div>
<div class="t sf" style="left:507.8px;top:207.5px;font-size:35.5px;transform:scaleX(0.8755);">Yajie Bao<span style="font-size:68%;vertical-align:0.5em;line-height:0">1</span></div>
<div class="t sf" style="left:696.0px;top:207.5px;font-size:35.5px;transform:scaleX(0.8531);">Amarda Shehu<span style="font-size:68%;vertical-align:0.5em;line-height:0">2</span></div>
<div class="t sf" style="left:955.5px;top:207.5px;font-size:35.5px;transform:scaleX(0.9088);">Mingrui Liu<span style="font-size:68%;vertical-align:0.5em;line-height:0">2</span></div>
<div class="t sf" style="left:439.2px;top:266.0px;font-size:28.2px;transform:scaleX(0.9217);"><span style="font-size:68%;vertical-align:0.5em;line-height:0">1</span>School of Mathematical Sciences, Shanghai Jiao Tong University</div>
<div class="t sf" style="left:468.0px;top:302.3px;font-size:28.2px;transform:scaleX(0.9147);"><span style="font-size:68%;vertical-align:0.5em;line-height:0">2</span>Department of Computer Science, George Mason University</div>
<div class="t" style="left:188.0px;top:423.0px;font-size:36.2px;transform:scaleX(1.0908);"><b style="letter-spacing:0.012em">Two-layer NN under Gaussian Input</b></div>
<div class="t" style="left:89.0px;top:493.7px;font-size:29.4px;transform:scaleX(0.9835);">The fully connected two-layer NN with weight normalization:</div>
<div class="t" style="left:342.9px;top:526.1px;font-size:29.4px;transform:scaleX(1.1032);"><i>f</i>(<b>Z</b>, <b><i>v</i></b>, <b><i>a</i></b>) = <span class="sm" style="margin:0 3px 0 2px"><span class="u">k</span><span class="s ds">∑</span><span class="l"><i>j</i>=1</span></span><i>a</i><span class="sb"><i>j</i></span><span class="fr"><span class="n"><i>σ</i>(<b>Z</b><span class="ss"><span><span class="ds" style="font-size:88%;vertical-align:0;line-height:0">⊤</span></span><span><i>i</i></span></span><b><i>v</i></b>)</span><span class="d"><span class="nm">||</span><b><i>v</i></b><span class="nm">||</span></span></span>,</div>
<div class="t" style="left:89.0px;top:620.3px;font-size:29.4px;word-spacing:3.31px;transform:scaleX(0.9900);">where <b>Z</b> &nbsp;=&nbsp; (<b>Z</b><span class="sb">1</span>, ⋯ , <b>Z</b><span class="sb"><i>k</i></span>) &nbsp;∈&nbsp; <span class="ds">ℝ</span><span class="sp"><i>d</i>×<i>k</i></span> is the input matrix, <b><i>v</i></b> ∈ <span class="ds">ℝ</span><span class="sp"><i>d</i></span> and</div>
<div class="t" style="left:89.0px;top:657.0px;font-size:29.4px;word-spacing:0.22px;transform:scaleX(0.9900);"><b><i>a</i></b> ∈ <span class="ds">ℝ</span><span class="sp"><i>k</i></span> are weights of two layers, and <i>σ</i>(<i>x</i>) denotes the ReLU function.</div>
<div class="t" style="left:106.8px;top:707.5px;font-size:29.4px;transform:scaleX(0.9973);">Entry of the input <b>Z</b> is independently sampled from <span class="mm">𝒩</span>(0, 1).</div>
<div class="t" style="left:106.8px;top:748.9px;font-size:29.4px;transform:scaleX(1.0746);">The <b>teacher network</b>: <i>y</i> = <i>f</i>(<b>Z</b>, <b><i>w</i></b><span class="sp" style="vertical-align:0.55em">∗</span>, <b><i>a</i></b><span class="sp" style="vertical-align:0.55em">∗</span>) with <span class="nm">||</span><b><i>w</i></b><span class="sp" style="vertical-align:0.55em">∗</span><span class="nm">||</span> = 1.</div>
<div class="t" style="left:106.8px;top:790.7px;font-size:29.4px;transform:scaleX(1.0199);">We hope to learn a <b>student network</b> by minimizing:</div>
<div class="t" style="left:197.2px;top:823.7px;font-size:29.4px;transform:scaleX(0.9986);"><i>L</i>(<b><i>v</i></b>, <b><i>a</i></b>) := <span class="ds">𝔼</span> [<i>ℓ</i>(<b><i>v</i></b>, <b><i>a</i></b>; <b>Z</b>)] = <span class="ds">𝔼</span> <span class="bp" style="font-size:1.35em;transform:scale(1.1,1.82);vertical-align:-0.06em;margin:0 0.06em">[</span><span class="fr"><span class="n">1</span><span class="d">2</span></span> · {<i>y</i> − <i>f</i>(<b>Z</b>, <b><i>v</i></b>, <b><i>a</i></b>)}<span class="sp" style="vertical-align:0.9em">2</span><span class="bp" style="font-size:1.35em;transform:scale(1.1,1.82);vertical-align:-0.06em;margin:0 0.06em">]</span> .</div>
<div class="t" style="left:162.2px;top:919.3px;font-size:36.2px;transform:scaleX(1.0838);"><b style="letter-spacing:0.012em">Nonconvex Landscape of Loss Function</b></div>
<div class="t" style="left:89.0px;top:993.6px;font-size:29.4px;transform:scaleX(0.9782);">The loss has a global minimum (<b><i>w</i></b><span class="sp" style="vertical-align:0.55em">∗</span>, <b><i>a</i></b><span class="sp" style="vertical-align:0.55em">∗</span>) and a local minimum (−<b><i>w</i></b><span class="sp" style="vertical-align:0.55em">∗</span>, <b><i>ã</i></b>).</div>
<div class="t" style="left:261.4px;top:1398.0px;font-size:36.2px;transform:scaleX(1.1029);"><b style="letter-spacing:0.012em">Local SGD for Training NN</b></div>
<div class="t" style="left:1086.8px;top:422.6px;font-size:36.2px;transform:scaleX(1.0897);"><b style="letter-spacing:0.012em">Related Work on Global Converegence</b></div>
<div class="t" style="left:1009.1px;top:498.6px;font-size:29.4px;transform:scaleX(1.0334);">The initial points are selected by <b><i>v</i></b><span class="sb">0</span> ∈ <span class="ds">𝕊</span><span class="sp"><i>d</i>−1</span> and <b><i>a</i></b><span class="sb">0</span> ∈ <span class="ds">𝔹</span><span class="sp"><i>k</i></span>(|<b>1</b><span class="ds" style="font-size:62%;vertical-align:0.62em;line-height:0">⊤</span><b><i>a</i></b><span class="sp" style="vertical-align:0.55em">∗</span>|/<span class="ds" style="font-size:105%">√</span><span style="text-decoration:overline;text-decoration-thickness:1.3px"><i>k</i></span>).</div>
<div class="t" style="left:1009.1px;top:537.7px;font-size:29.4px;transform:scaleX(1.0623);"><b class="bl">Attraction basin</b>: {(<b><i>v</i></b>, <b><i>a</i></b>) : ∠(<b><i>v</i></b>, <b><i>w</i></b><span class="sp" style="vertical-align:0.55em">∗</span>) &lt; <i>π</i>/2, <b><i>a</i></b><span class="ds" style="font-size:62%;vertical-align:0.62em;line-height:0">⊤</span><b><i>a</i></b><span class="sp" style="vertical-align:0.55em">∗</span> &gt; 0}.</div>
<div class="t" style="left:1026.8px;top:586.4px;font-size:29.4px;transform:scaleX(1.0219);">[<span class="lk">1</span>] proved that if the initial points are from the <b>attraction basin</b>,</div>
<div class="t" style="left:1026.8px;top:622.8px;font-size:29.4px;transform:scaleX(1.0073);">the <b>GD</b> algorithm can converge to the global minima.</div>
<div class="t" style="left:1026.8px;top:665.0px;font-size:29.4px;transform:scaleX(1.0083);">To obtain the global convergence with <b>arbitrary initialization</b>,</div>
<div class="t" style="left:1026.8px;top:702.9px;font-size:29.4px;transform:scaleX(1.0064);">[<span class="lk">2</span>] proposed a new <b>perturbed GD</b> algorithm by carefully injecting</div>
<div class="t" style="left:1026.8px;top:740.1px;font-size:29.4px;transform:scaleX(0.9667);">noise to weights of two layers.</div>
<div class="t" style="left:1026.8px;top:780.3px;font-size:29.4px;transform:scaleX(0.9797);">Analyzing local SGD for two-layer NN in the NTK regime [<span class="lk">3</span>, <span class="lk">4</span>].</div>
<div class="t" style="left:1009.9px;top:830.1px;font-size:29.4px;color:#1d46a8;transform:scaleX(1.0219);"><i>Is it possible to formally prove that the local SGD algorithm can find</i></div>
<div class="t" style="left:1009.9px;top:866.6px;font-size:29.4px;color:#1d46a8;transform:scaleX(1.0460);"><i>global minima without injecting noise and overparameterization?</i></div>
<div class="t" style="left:1188.1px;top:938.7px;font-size:36.2px;transform:scaleX(1.0711);"><b style="letter-spacing:0.012em">Self-Correction Mechanism</b></div>
<div class="t" style="left:1178.2px;top:1017.5px;font-size:31.7px;transform:scaleX(1.0462);"><b style="letter-spacing:0.012em">The self-correction of (local) SGD</b></div>
<div class="t" style="left:1008.7px;top:1372.4px;font-size:20.6px;word-spacing:2.73px;transform:scaleX(0.9900);"><span class="pu">Figure 1:</span>Trajectories of Minibatch SGD and Local SGD starting from bad initial points such that</div>
<div class="t" style="left:1008.7px;top:1407.1px;font-size:20.6px;transform:scaleX(1.0916);"><i>ϕ</i><span class="sb">0</span> &gt; <i>π</i>/2 and <b><i>a</i></b><span class="ss"><span><span class="ds" style="font-size:88%;vertical-align:0;line-height:0">⊤</span></span><span>0</span></span><b><i>a</i></b><span class="sp" style="vertical-align:0.55em">∗</span> &lt; 0. Here <i>ϕ</i><span class="sb"><i>t</i></span> = ∠(<b><i>v</i></b><span class="sb"><i>t</i></span>, <b><i>w</i></b><span class="sp" style="vertical-align:0.55em">∗</span>).</div>
<div class="t" style="left:1124.8px;top:1470.5px;font-size:31.7px;transform:scaleX(1.0352);"><b style="letter-spacing:0.012em">Almost sufficient and necessary condition</b></div>
<div class="t" style="left:1008.7px;top:1517.3px;font-size:29.4px;word-spacing:3.81px;"><b>Assumption.</b>&nbsp;&nbsp; Define&nbsp; <i>α</i> &nbsp;=&nbsp; |<b>1</b><span class="ds" style="font-size:62%;vertical-align:0.62em;line-height:0">⊤</span><b><i>a</i></b><span class="sp" style="vertical-align:0.55em">∗</span>|<span class="sp">2</span>/(<i>k</i><span class="nm">||</span><b><i>a</i></b><span class="sp" style="vertical-align:0.55em">∗</span><span class="nm">||</span><span class="sp">2</span>).&nbsp;&nbsp; We&nbsp; assume&nbsp; <i>k</i>&nbsp; ≥</div>
<div class="t" style="left:1008.7px;top:1553.7px;font-size:29.4px;transform:scaleX(1.0447);">320(<i>π</i> − 1)<span class="sp">2</span> and the ground truth satisfies |<b>1</b><span class="ds" style="font-size:62%;vertical-align:0.62em;line-height:0">⊤</span><b><i>a</i></b><span class="sp" style="vertical-align:0.55em">∗</span>| ≤ <i>Õ</i>(<i>k</i>) and</div>
<div class="t" style="left:1213.8px;top:1599.8px;font-size:29.4px;transform:scaleX(1.0433);"><i>α</i> &gt; <span class="fr"><span class="n"><i>π</i> + <i>k</i> − 1</span><span class="d">(<i>π</i> − 1)<i>k</i></span></span> <span class="bp" style="font-size:1.35em;transform:scale(1.25,2.1);vertical-align:0.075em;margin:0 0.06em">(</span>1 − <span class="fr"><span class="n">32(<i>π</i> − 1)</span><span class="d"><i>k</i></span></span><span class="bp" style="font-size:1.35em;transform:scale(1.25,2.1);vertical-align:0.075em;margin:0 0.06em">)</span><span class="sp" style="vertical-align:1.75em">−1</span> .</div>
<div class="t" style="left:1008.7px;top:1679.4px;font-size:29.4px;word-spacing:0.09px;transform:scaleX(0.9900);"><b>Simulation results.</b> Success probabilities of converging to the global</div>
<div class="t" style="left:1008.7px;top:1715.8px;font-size:29.4px;transform:scaleX(0.9973);">minima with random initialization under different values of <i>α</i>.</div>
<div class="t" style="left:1158.0px;top:1773.0px;font-size:29.4px;"><i>α</i></div>
<div class="t" style="left:1371.1px;top:1768.8px;font-size:20.5px;">1</div>
<div class="t" style="left:1366.0px;top:1790.3px;font-size:20.5px;">64</div>
<div class="t" style="left:1428.7px;top:1768.8px;font-size:20.5px;">1</div>
<div class="t" style="left:1423.5px;top:1790.3px;font-size:20.5px;">32</div>
<div class="t" style="left:1486.5px;top:1768.8px;font-size:20.5px;">1</div>
<div class="t" style="left:1481.3px;top:1790.3px;font-size:20.5px;">16</div>
<div class="t" style="left:1544.1px;top:1768.8px;font-size:20.5px;">1</div>
<div class="t" style="left:1544.1px;top:1790.3px;font-size:20.5px;">8</div>
<div class="t" style="left:1601.5px;top:1768.8px;font-size:20.5px;color:#e3231b;">1</div>
<div class="t" style="left:1601.5px;top:1790.3px;font-size:20.5px;color:#e3231b;">4</div>
<div class="t" style="left:1659.1px;top:1768.8px;font-size:20.5px;color:#e3231b;">1</div>
<div class="t" style="left:1659.1px;top:1790.3px;font-size:20.5px;color:#e3231b;">2</div>
<div class="t" style="left:1158.9px;top:1813.9px;font-size:29.4px;transform:scaleX(0.9589);">Local SGD</div>
<div class="t" style="left:1158.9px;top:1855.6px;font-size:29.4px;transform:scaleX(0.9799);">Minibatch SGD</div>
<div class="t" style="left:1353.5px;top:1813.9px;font-size:29.4px;transform:scaleX(0.8826);">0.61</div>
<div class="t" style="left:1353.5px;top:1855.6px;font-size:29.4px;transform:scaleX(0.8826);">0.60</div>
<div class="t" style="left:1410.8px;top:1813.9px;font-size:29.4px;transform:scaleX(0.8885);">0.62</div>
<div class="t" style="left:1410.8px;top:1855.6px;font-size:29.4px;transform:scaleX(0.8885);">0.62</div>
<div class="t" style="left:1468.4px;top:1813.9px;font-size:29.4px;transform:scaleX(0.8943);">0.69</div>
<div class="t" style="left:1468.4px;top:1855.6px;font-size:29.4px;transform:scaleX(0.8943);">0.69</div>
<div class="t" style="left:1525.7px;top:1813.9px;font-size:29.4px;transform:scaleX(0.9001);">0.93</div>
<div class="t" style="left:1525.7px;top:1855.6px;font-size:29.4px;transform:scaleX(0.9001);">0.91</div>
<div class="t" style="left:1584.6px;top:1813.9px;font-size:29.4px;color:#e3231b;transform:scaleX(0.8846);">1.00</div>
<div class="t" style="left:1584.6px;top:1855.6px;font-size:29.4px;color:#e3231b;transform:scaleX(0.8846);">1.00</div>
<div class="t" style="left:1641.9px;top:1813.9px;font-size:29.4px;color:#e3231b;transform:scaleX(0.8846);">1.00</div>
<div class="t" style="left:1641.9px;top:1855.6px;font-size:29.4px;color:#e3231b;transform:scaleX(0.8846);">1.00</div>
<div class="t" style="left:2104.5px;top:423.0px;font-size:36.2px;transform:scaleX(1.0907);"><b style="letter-spacing:0.012em">Illustration of Proof Sketch</b></div>
<div class="t" style="left:2172.9px;top:1146.3px;font-size:36.2px;transform:scaleX(1.0970);"><b style="letter-spacing:0.012em">Complexity Results</b></div>
<div class="t" style="left:1927.2px;top:1216.4px;font-size:29.4px;word-spacing:2.29px;">Let <i>η</i> be the universal learning rate of local SGD. For <b class="bl">almost arbi-</b></div>
<div class="t" style="left:1927.2px;top:1253.1px;font-size:29.4px;word-spacing:-0.36px;transform:scaleX(1.0200);"><b class="bl">trary initial point</b> (except for a measure zero set where <i>ϕ</i><span class="sb">0</span> = <i>π</i>), the</div>
<div class="t" style="left:1927.2px;top:1290.1px;font-size:29.4px;transform:scaleX(0.9937);">iteration complexities are</div>
<div class="t" style="left:1945.4px;top:1339.7px;font-size:29.4px;transform:scaleX(1.0345);"><b>Self-correction of the 2nd layer:</b> <i>O</i> (<i>η</i><span class="sp">−1</span> log <i>k</i>).</div>
<div class="t" style="left:1945.4px;top:1380.2px;font-size:29.4px;transform:scaleX(1.0404);"><b>Self-correction of the 1st layer:</b> <i>O</i> <span class="bp" style="font-size:1.2em;transform:scale(1.1,1.55);vertical-align:0.06em;margin:0 0.03em">(</span><i>η</i><span class="sp">−1</span><span class="tf"><span class="n"><i>k</i><span class="sp">3</span></span><span class="d">sin<span class="sp">3</span> <i>ϕ</i><span class="sb">0</span></span></span><span class="bp" style="font-size:1.2em;transform:scale(1.1,1.55);vertical-align:0.06em;margin:0 0.03em">)</span>.</div>
<div class="t" style="left:1945.4px;top:1435.0px;font-size:29.4px;transform:scaleX(1.0398);"><b>Convergence stage:</b> <i>Õ</i> <span class="bp" style="font-size:1.2em;transform:scale(1.1,1.55);vertical-align:0.06em;margin:0 0.03em">(</span><span class="tf"><span class="n"><i>dk</i><span class="sp">4</span></span><span class="d"><i>Nϵ</i></span></span><span class="bp" style="font-size:1.2em;transform:scale(1.1,1.55);vertical-align:0.06em;margin:0 0.03em">)</span> with <i>η</i> = <span class="tf"><span class="n">1</span><span class="d"><i>k</i><span class="sp">2</span></span></span><span class="tf"><span class="n"><i>Nϵ</i></span><span class="d"><i>d</i> log(1/<i>δ</i>)</span></span>.</div>
<div class="t" style="left:1927.2px;top:1490.1px;font-size:29.4px;transform:scaleX(1.0502);">The total <b>communication complexity</b>:</div>
<div class="t" style="left:2237.6px;top:1530.8px;font-size:29.4px;transform:scaleX(0.9847);"><i>R</i> = <i>Õ</i> <span class="bp" style="font-size:1.35em;transform:scale(1.25,2.1);vertical-align:0.075em;margin:0 0.06em">(</span><span class="fr"><span class="n"><i>k</i><span class="sp">11/2</span></span><span class="d">sin<span class="sp">3</span> <i>ϕ</i><span class="sb">0</span></span></span><span class="bp" style="font-size:1.35em;transform:scale(1.25,2.1);vertical-align:0.075em;margin:0 0.06em">)</span> .</div>
<div class="t" style="left:2250.0px;top:1655.9px;font-size:36.2px;transform:scaleX(1.0687);"><b style="letter-spacing:0.012em">References</b></div>
<div class="t" style="left:1927.4px;top:1738.0px;font-size:14.05px;">[1]</div>
<div class="t" style="left:1944.7px;top:1738.0px;font-size:14.05px;word-spacing:1.78px;transform:scaleX(0.9850);">Simon Du, Jason Lee, Yuandong Tian, Aarti Singh, and Barnabas Poczos.&nbsp; Gradient descent learns one-hidden-layer cnn:&nbsp; Don’t be afraid of</div>
<div class="t" style="left:1944.7px;top:1755.8px;font-size:14.05px;transform:scaleX(1.0189);">spurious local minima.&nbsp; In <i>International Conference on Machine Learning</i>, pages 1339–1348. PMLR, 2018.</div>
<div class="t" style="left:1927.4px;top:1778.8px;font-size:14.05px;">[2]</div>
<div class="t" style="left:1944.7px;top:1778.8px;font-size:14.05px;word-spacing:0.44px;transform:scaleX(0.9850);">Mo Zhou, Tianyi Liu, Yan Li, Dachao Lin, Enlu Zhou, and Tuo Zhao. Toward understanding the importance of noise in training neural networks.</div>
<div class="t" style="left:1944.7px;top:1796.6px;font-size:14.05px;transform:scaleX(1.0291);">In <i>International Conference on Machine Learning</i>, pages 7594–7602. PMLR, 2019.</div>
<div class="t" style="left:1927.4px;top:1819.1px;font-size:14.05px;">[3]</div>
<div class="t" style="left:1944.7px;top:1819.1px;font-size:14.05px;word-spacing:0.62px;transform:scaleX(0.9850);">Yuyang Deng, Mohammad Mahdi Kamani, and Mehrdad Mahdavi.&nbsp; Local sgd optimizes overparameterized neural networks in polynomial time.</div>
<div class="t" style="left:1944.7px;top:1837.7px;font-size:14.05px;transform:scaleX(1.0414);">In <i>International Conference on Artificial Intelligence and Statistics</i>, pages 6840–6861. PMLR, 2022.</div>
<div class="t" style="left:1927.4px;top:1859.9px;font-size:14.05px;">[4]</div>
<div class="t" style="left:1944.7px;top:1859.9px;font-size:14.05px;word-spacing:1.33px;transform:scaleX(0.9850);">Kai Yue, Richeng Jin, Ryan Pilgrim, Chau-Wai Wong, Dror Baron, and Huaiyu Dai.&nbsp; Neural tangent kernel empowered federated learning.&nbsp; In</div>
<div class="t" style="left:1944.7px;top:1877.9px;font-size:14.05px;transform:scaleX(1.0236);"><i>International Conference on Machine Learning</i>, pages 25783–25803. PMLR, 2022.</div>
<div class="t" style="left:574.4px;top:1107.0px;font-size:22.7px;transform:scaleX(0.9960);">No Noise</div>
</body></html>
